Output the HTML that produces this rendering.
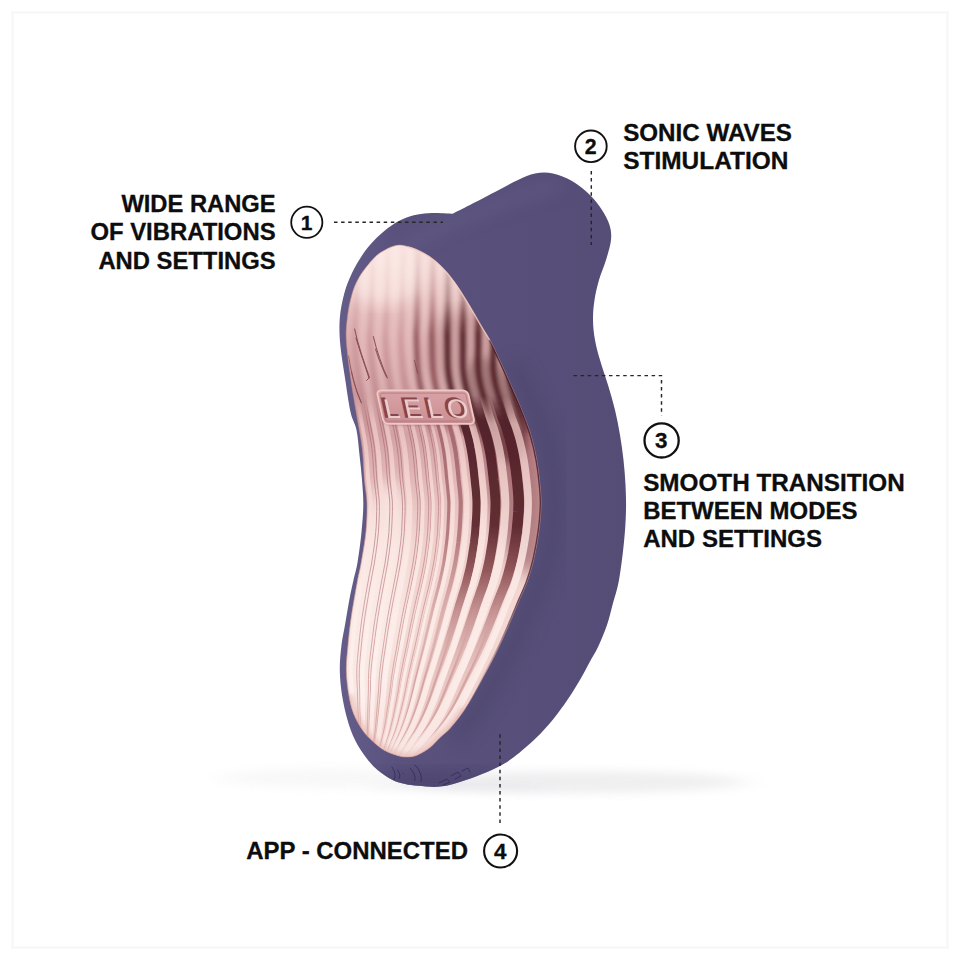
<!DOCTYPE html>
<html lang="en"><head><meta charset="utf-8"><title>Product features</title>
<style>
html,body{margin:0;padding:0;background:#fff;}
body{width:960px;height:960px;overflow:hidden;}
svg{display:block;}
text{font-family:"Liberation Sans", Arial, sans-serif;font-weight:700;fill:#0d0d0d;}
.lbl,.num{stroke:#0d0d0d;stroke-width:0.3px;stroke-linejoin:round;}
.lbl{font-size:23.2px;}
.num{text-anchor:middle;}
.dot{stroke:#262626;stroke-width:1.45;stroke-dasharray:3.5 3.6;fill:none;}
.ring{fill:#fff;stroke:#111;}
.rd{fill:none;stroke-linecap:round;}
</style></head><body>
<svg width="960" height="960" viewBox="0 0 960 960">

<defs>
<linearGradient id="gBody" x1="340" y1="0" x2="626" y2="0" gradientUnits="userSpaceOnUse">
 <stop offset="0" stop-color="#645d8a"/><stop offset="0.2" stop-color="#5a527d"/><stop offset="0.7" stop-color="#574f79"/><stop offset="1" stop-color="#554d76"/>
</linearGradient>
<linearGradient id="gPanel" x1="0" y1="246" x2="0" y2="756" gradientUnits="userSpaceOnUse">
 <stop offset="0" stop-color="#f7e0db"/><stop offset="0.06" stop-color="#f0d1ce"/><stop offset="0.12" stop-color="#e5bdbd"/><stop offset="0.2" stop-color="#dbaaac"/><stop offset="0.29" stop-color="#cc989c"/><stop offset="0.37" stop-color="#d3a1a4"/><stop offset="0.46" stop-color="#e2b9b8"/><stop offset="0.58" stop-color="#efcfcb"/><stop offset="0.73" stop-color="#f3d9d4"/><stop offset="1" stop-color="#f0cfc9"/>
</linearGradient>
<linearGradient id="gDarkR" x1="0" y1="246" x2="0" y2="756" gradientUnits="userSpaceOnUse">
 <stop offset="0" stop-color="#7a4247" stop-opacity="0.1"/><stop offset="0.12" stop-color="#7a4247" stop-opacity="0.55"/><stop offset="0.25" stop-color="#7a4247" stop-opacity="0.9"/><stop offset="0.6" stop-color="#82474b" stop-opacity="0.9"/><stop offset="0.8" stop-color="#a8696a" stop-opacity="0.7"/><stop offset="1" stop-color="#b98180" stop-opacity="0.5"/>
</linearGradient>
<linearGradient id="gDarkL" x1="0" y1="246" x2="0" y2="756" gradientUnits="userSpaceOnUse">
 <stop offset="0" stop-color="#b88586" stop-opacity="0.1"/><stop offset="0.15" stop-color="#b88586" stop-opacity="0.4"/><stop offset="0.3" stop-color="#b07a7c" stop-opacity="0.8"/><stop offset="0.6" stop-color="#b07a7c" stop-opacity="0.8"/><stop offset="1" stop-color="#c08f8e" stop-opacity="0.6"/>
</linearGradient>
<linearGradient id="gLight" x1="0" y1="246" x2="0" y2="756" gradientUnits="userSpaceOnUse">
 <stop offset="0" stop-color="#fff4f1" stop-opacity="0.5"/><stop offset="0.2" stop-color="#fbe4e0" stop-opacity="0.45"/><stop offset="0.35" stop-color="#fdeae6" stop-opacity="0.85"/><stop offset="1" stop-color="#fff3ef" stop-opacity="0.95"/>
</linearGradient>
<linearGradient id="gLogo" x1="0" y1="0" x2="0" y2="1">
 <stop offset="0" stop-color="#d9a3a6"/><stop offset="1" stop-color="#c98f93"/>
</linearGradient>
<filter id="blurS" x="-20%" y="-200%" width="140%" height="500%"><feGaussianBlur stdDeviation="16 5"/></filter>
<filter id="b05"><feGaussianBlur stdDeviation="0.5"/></filter>
<filter id="b1"><feGaussianBlur stdDeviation="0.9"/></filter>
<filter id="b2"><feGaussianBlur stdDeviation="2"/></filter>
<filter id="b4"><feGaussianBlur stdDeviation="4"/></filter>
<filter id="b8"><feGaussianBlur stdDeviation="8"/></filter>
<clipPath id="cpPanel"><path d="M397.0 245.3C393.2 245.9 388.9 247.8 385.0 250.0C381.1 252.2 378.1 253.8 373.8 258.3C369.4 262.9 362.8 271.2 359.2 277.3C355.6 283.4 353.8 288.2 351.9 294.8C349.9 301.4 348.4 309.2 347.5 316.7C346.6 324.2 345.8 330.3 346.3 340.0C346.8 349.7 348.9 364.2 350.3 375.0C351.8 385.8 353.6 396.7 355.0 405.0C356.4 413.3 357.2 417.5 358.5 425.0C359.8 432.5 361.5 440.8 362.5 450.0C363.5 459.2 363.8 471.2 364.5 480.0C365.2 488.8 366.8 494.5 367.0 503.0C367.2 511.5 366.9 521.2 366.0 531.0C365.1 540.8 362.7 553.8 361.3 562.0C359.9 570.2 358.8 573.7 357.6 580.0C356.4 586.3 355.2 593.0 354.0 600.0C352.8 607.0 351.5 614.5 350.5 622.0C349.5 629.5 348.7 637.0 348.0 645.0C347.3 653.0 346.2 661.7 346.3 670.0C346.4 678.3 347.5 687.7 348.8 695.0C350.0 702.3 351.5 708.2 353.8 714.0C356.0 719.8 359.4 725.5 362.5 730.0C365.6 734.5 369.0 737.7 372.5 741.0C376.0 744.3 379.6 747.6 383.8 750.0C387.9 752.4 393.5 754.4 397.5 755.6C401.5 756.8 404.2 757.1 407.5 757.0C410.8 756.9 413.8 756.6 417.5 755.0C421.2 753.4 426.2 750.4 430.0 747.5C433.8 744.6 436.7 740.7 440.0 737.5C443.3 734.3 445.8 733.2 450.0 728.5C454.2 723.8 460.0 716.6 465.0 709.0C470.0 701.4 475.0 692.0 480.0 683.0C485.0 674.0 490.4 664.2 495.0 655.0C499.6 645.8 503.7 636.7 507.5 628.0C511.3 619.3 514.8 610.7 518.0 603.0C521.2 595.3 524.3 589.5 527.0 582.0C529.7 574.5 532.0 566.7 534.0 558.0C536.0 549.3 537.8 538.8 539.0 530.0C540.2 521.2 540.8 512.5 541.0 505.0C541.2 497.5 540.7 492.5 540.0 485.0C539.3 477.5 538.2 468.3 536.7 460.0C535.2 451.7 533.3 443.3 530.8 435.0C528.3 426.7 525.0 418.3 521.7 410.0C518.4 401.7 514.4 393.2 510.8 385.0C507.2 376.8 503.5 368.5 500.0 361.0C496.5 353.5 492.9 345.6 490.0 340.0C487.1 334.4 485.8 333.2 482.5 327.5C479.2 321.8 474.2 312.9 470.0 306.0C465.8 299.1 461.7 292.0 457.5 286.0C453.3 280.0 449.2 274.6 445.0 270.0C440.8 265.4 436.7 261.7 432.5 258.5C428.3 255.3 424.1 253.0 420.0 251.0C415.9 249.0 411.8 247.4 408.0 246.5C404.2 245.6 400.8 244.7 397.0 245.3Z"/></clipPath>
<clipPath id="cpBody"><path d="M452.5 213.8C455.4 212.3 462.9 208.6 470.0 205.0C477.1 201.4 487.0 196.2 495.0 192.0C503.0 187.8 511.3 183.1 518.0 180.0C524.7 176.9 529.2 174.6 535.0 173.5C540.8 172.4 546.8 172.2 553.0 173.5C559.2 174.8 565.8 177.4 572.0 181.0C578.2 184.6 585.0 190.2 590.0 195.0C595.0 199.8 598.8 205.0 602.0 210.0C605.2 215.0 608.0 220.0 609.5 225.0C611.0 230.0 611.6 234.2 611.0 240.0C610.4 245.8 608.0 253.3 606.0 260.0C604.0 266.7 600.9 273.3 599.0 280.0C597.1 286.7 595.5 293.3 594.5 300.0C593.5 306.7 592.9 313.3 593.0 320.0C593.1 326.7 593.8 333.3 595.0 340.0C596.2 346.7 597.8 352.5 600.0 360.0C602.2 367.5 605.5 376.7 608.0 385.0C610.5 393.3 613.0 401.7 615.0 410.0C617.0 418.3 618.6 426.7 620.0 435.0C621.4 443.3 622.6 451.7 623.5 460.0C624.4 468.3 625.1 476.7 625.5 485.0C625.9 493.3 626.2 500.5 626.0 510.0C625.8 519.5 625.2 530.3 624.0 542.0C622.8 553.7 620.9 569.5 619.0 580.0C617.1 590.5 614.5 597.5 612.5 605.0C610.5 612.5 609.4 618.0 607.0 625.0C604.6 632.0 600.9 640.8 598.0 647.0C595.1 653.2 592.6 656.7 589.7 662.0C586.8 667.3 584.1 672.8 580.5 679.0C576.9 685.2 572.6 692.2 568.0 699.0C563.4 705.8 558.3 713.0 553.0 719.5C547.7 726.0 542.5 731.8 536.0 738.0C529.5 744.2 520.3 752.2 514.0 757.0C507.7 761.8 504.3 763.8 498.0 767.0C491.7 770.2 483.2 773.8 476.0 776.5C468.8 779.2 461.3 781.8 455.0 783.5C448.7 785.2 444.2 786.4 438.0 786.8C431.8 787.2 423.5 786.3 418.0 785.8C412.5 785.3 409.2 785.0 405.0 784.0C400.8 783.0 397.1 782.3 392.5 780.0C387.9 777.7 381.9 773.8 377.5 770.0C373.1 766.2 369.8 762.5 366.0 757.5C362.2 752.5 358.1 746.2 355.0 740.0C351.9 733.8 349.7 727.5 347.5 720.0C345.3 712.5 343.3 703.3 342.0 695.0C340.7 686.7 339.9 678.3 339.8 670.0C339.7 661.7 340.6 652.5 341.5 645.0C342.4 637.5 343.7 632.5 345.0 625.0C346.3 617.5 347.9 607.5 349.3 600.0C350.7 592.5 352.1 586.3 353.5 580.0C354.9 573.7 356.3 570.0 357.6 562.0C358.9 554.0 360.6 541.5 361.5 532.0C362.4 522.5 363.2 513.7 363.3 505.0C363.4 496.3 362.6 488.3 362.0 480.0C361.4 471.7 360.4 463.3 359.5 455.0C358.6 446.7 358.0 437.2 356.5 430.0C355.0 422.8 352.4 420.7 350.5 412.0C348.6 403.3 346.7 389.2 345.0 378.0C343.3 366.8 341.2 355.0 340.3 345.0C339.4 335.0 339.1 326.7 339.8 318.0C340.5 309.3 342.4 300.5 344.4 293.0C346.4 285.5 349.1 279.3 352.0 273.0C354.9 266.7 358.4 260.8 362.0 255.4C365.6 250.0 369.4 245.4 373.8 240.8C378.1 236.2 383.4 231.3 388.3 227.7C393.2 224.1 398.1 221.2 403.0 219.0C407.9 216.8 412.7 215.6 417.5 214.6C422.3 213.6 426.2 213.1 432.0 213.0C437.8 212.9 449.1 213.6 452.5 213.8Z"/></clipPath>
</defs>

<rect x="0" y="0" width="960" height="960" fill="#fff"/>
<rect x="12.5" y="12.5" width="935" height="935" fill="none" stroke="#f7f7f7" stroke-width="2.5"/>
<ellipse cx="575" cy="782" rx="170" ry="11" fill="#e8e8ea" opacity="0.7" filter="url(#blurS)"/>
<ellipse cx="330" cy="778" rx="110" ry="10" fill="#eeeeef" opacity="0.4" filter="url(#blurS)"/>
<ellipse cx="460" cy="787" rx="90" ry="3" fill="#dcdbe2" opacity="0.5" filter="url(#blurS)"/>
<path d="M452.5 213.8C455.4 212.3 462.9 208.6 470.0 205.0C477.1 201.4 487.0 196.2 495.0 192.0C503.0 187.8 511.3 183.1 518.0 180.0C524.7 176.9 529.2 174.6 535.0 173.5C540.8 172.4 546.8 172.2 553.0 173.5C559.2 174.8 565.8 177.4 572.0 181.0C578.2 184.6 585.0 190.2 590.0 195.0C595.0 199.8 598.8 205.0 602.0 210.0C605.2 215.0 608.0 220.0 609.5 225.0C611.0 230.0 611.6 234.2 611.0 240.0C610.4 245.8 608.0 253.3 606.0 260.0C604.0 266.7 600.9 273.3 599.0 280.0C597.1 286.7 595.5 293.3 594.5 300.0C593.5 306.7 592.9 313.3 593.0 320.0C593.1 326.7 593.8 333.3 595.0 340.0C596.2 346.7 597.8 352.5 600.0 360.0C602.2 367.5 605.5 376.7 608.0 385.0C610.5 393.3 613.0 401.7 615.0 410.0C617.0 418.3 618.6 426.7 620.0 435.0C621.4 443.3 622.6 451.7 623.5 460.0C624.4 468.3 625.1 476.7 625.5 485.0C625.9 493.3 626.2 500.5 626.0 510.0C625.8 519.5 625.2 530.3 624.0 542.0C622.8 553.7 620.9 569.5 619.0 580.0C617.1 590.5 614.5 597.5 612.5 605.0C610.5 612.5 609.4 618.0 607.0 625.0C604.6 632.0 600.9 640.8 598.0 647.0C595.1 653.2 592.6 656.7 589.7 662.0C586.8 667.3 584.1 672.8 580.5 679.0C576.9 685.2 572.6 692.2 568.0 699.0C563.4 705.8 558.3 713.0 553.0 719.5C547.7 726.0 542.5 731.8 536.0 738.0C529.5 744.2 520.3 752.2 514.0 757.0C507.7 761.8 504.3 763.8 498.0 767.0C491.7 770.2 483.2 773.8 476.0 776.5C468.8 779.2 461.3 781.8 455.0 783.5C448.7 785.2 444.2 786.4 438.0 786.8C431.8 787.2 423.5 786.3 418.0 785.8C412.5 785.3 409.2 785.0 405.0 784.0C400.8 783.0 397.1 782.3 392.5 780.0C387.9 777.7 381.9 773.8 377.5 770.0C373.1 766.2 369.8 762.5 366.0 757.5C362.2 752.5 358.1 746.2 355.0 740.0C351.9 733.8 349.7 727.5 347.5 720.0C345.3 712.5 343.3 703.3 342.0 695.0C340.7 686.7 339.9 678.3 339.8 670.0C339.7 661.7 340.6 652.5 341.5 645.0C342.4 637.5 343.7 632.5 345.0 625.0C346.3 617.5 347.9 607.5 349.3 600.0C350.7 592.5 352.1 586.3 353.5 580.0C354.9 573.7 356.3 570.0 357.6 562.0C358.9 554.0 360.6 541.5 361.5 532.0C362.4 522.5 363.2 513.7 363.3 505.0C363.4 496.3 362.6 488.3 362.0 480.0C361.4 471.7 360.4 463.3 359.5 455.0C358.6 446.7 358.0 437.2 356.5 430.0C355.0 422.8 352.4 420.7 350.5 412.0C348.6 403.3 346.7 389.2 345.0 378.0C343.3 366.8 341.2 355.0 340.3 345.0C339.4 335.0 339.1 326.7 339.8 318.0C340.5 309.3 342.4 300.5 344.4 293.0C346.4 285.5 349.1 279.3 352.0 273.0C354.9 266.7 358.4 260.8 362.0 255.4C365.6 250.0 369.4 245.4 373.8 240.8C378.1 236.2 383.4 231.3 388.3 227.7C393.2 224.1 398.1 221.2 403.0 219.0C407.9 216.8 412.7 215.6 417.5 214.6C422.3 213.6 426.2 213.1 432.0 213.0C437.8 212.9 449.1 213.6 452.5 213.8Z" fill="url(#gBody)"/>
<g clip-path="url(#cpBody)">
<path d="M454.0 737.5C455.7 736.0 459.8 733.2 464.0 728.5C468.2 723.8 474.0 716.6 479.0 709.0C484.0 701.4 489.0 692.0 494.0 683.0C499.0 674.0 504.4 664.2 509.0 655.0C513.6 645.8 517.7 636.7 521.5 628.0C525.3 619.3 528.8 610.7 532.0 603.0C535.2 595.3 538.3 589.5 541.0 582.0C543.7 574.5 546.0 566.7 548.0 558.0C550.0 549.3 551.8 538.8 553.0 530.0C554.2 521.2 554.8 512.5 555.0 505.0C555.2 497.5 554.7 492.5 554.0 485.0C553.3 477.5 552.2 468.3 550.7 460.0C549.2 451.7 547.3 443.3 544.8 435.0C542.3 426.7 539.0 418.3 535.7 410.0C532.4 401.7 528.4 393.2 524.8 385.0C521.2 376.8 515.8 365.0 514.0 361.0" fill="none" stroke="#49446b" stroke-width="16" opacity="0.55" filter="url(#b8)"/>
<ellipse cx="440" cy="800" rx="120" ry="30" fill="#46416a" opacity="0.55" filter="url(#b8)"/>
<path d="M400 250 C440 225 500 200 560 185" fill="none" stroke="#67628c" stroke-width="10" opacity="0.5" filter="url(#b8)"/>
<g fill="none" stroke="#2f2a55" stroke-width="1" opacity="0.75" stroke-linecap="round">
<path d="M392 767q5 7 2 13M397.5 770q4 5 1.500 8.500M403 773l.5 .5M410 768q6 6 5 12.500M415 765q8 8 6 16.500"/>
<path d="M439 783l8 -4l3 3l-7 3M451 776l7 -4l3 4l-6 3M462 771l6 -3l2 4"/>
</g>
</g>
<path d="M397.0 245.3C393.2 245.9 388.9 247.8 385.0 250.0C381.1 252.2 378.1 253.8 373.8 258.3C369.4 262.9 362.8 271.2 359.2 277.3C355.6 283.4 353.8 288.2 351.9 294.8C349.9 301.4 348.4 309.2 347.5 316.7C346.6 324.2 345.8 330.3 346.3 340.0C346.8 349.7 348.9 364.2 350.3 375.0C351.8 385.8 353.6 396.7 355.0 405.0C356.4 413.3 357.2 417.5 358.5 425.0C359.8 432.5 361.5 440.8 362.5 450.0C363.5 459.2 363.8 471.2 364.5 480.0C365.2 488.8 366.8 494.5 367.0 503.0C367.2 511.5 366.9 521.2 366.0 531.0C365.1 540.8 362.7 553.8 361.3 562.0C359.9 570.2 358.8 573.7 357.6 580.0C356.4 586.3 355.2 593.0 354.0 600.0C352.8 607.0 351.5 614.5 350.5 622.0C349.5 629.5 348.7 637.0 348.0 645.0C347.3 653.0 346.2 661.7 346.3 670.0C346.4 678.3 347.5 687.7 348.8 695.0C350.0 702.3 351.5 708.2 353.8 714.0C356.0 719.8 359.4 725.5 362.5 730.0C365.6 734.5 369.0 737.7 372.5 741.0C376.0 744.3 379.6 747.6 383.8 750.0C387.9 752.4 393.5 754.4 397.5 755.6C401.5 756.8 404.2 757.1 407.5 757.0C410.8 756.9 413.8 756.6 417.5 755.0C421.2 753.4 426.2 750.4 430.0 747.5C433.8 744.6 436.7 740.7 440.0 737.5C443.3 734.3 445.8 733.2 450.0 728.5C454.2 723.8 460.0 716.6 465.0 709.0C470.0 701.4 475.0 692.0 480.0 683.0C485.0 674.0 490.4 664.2 495.0 655.0C499.6 645.8 503.7 636.7 507.5 628.0C511.3 619.3 514.8 610.7 518.0 603.0C521.2 595.3 524.3 589.5 527.0 582.0C529.7 574.5 532.0 566.7 534.0 558.0C536.0 549.3 537.8 538.8 539.0 530.0C540.2 521.2 540.8 512.5 541.0 505.0C541.2 497.5 540.7 492.5 540.0 485.0C539.3 477.5 538.2 468.3 536.7 460.0C535.2 451.7 533.3 443.3 530.8 435.0C528.3 426.7 525.0 418.3 521.7 410.0C518.4 401.7 514.4 393.2 510.8 385.0C507.2 376.8 503.5 368.5 500.0 361.0C496.5 353.5 492.9 345.6 490.0 340.0C487.1 334.4 485.8 333.2 482.5 327.5C479.2 321.8 474.2 312.9 470.0 306.0C465.8 299.1 461.7 292.0 457.5 286.0C453.3 280.0 449.2 274.6 445.0 270.0C440.8 265.4 436.7 261.7 432.5 258.5C428.3 255.3 424.1 253.0 420.0 251.0C415.9 249.0 411.8 247.4 408.0 246.5C404.2 245.6 400.8 244.7 397.0 245.3Z" fill="url(#gPanel)"/>
<g clip-path="url(#cpPanel)">
<ellipse cx="383" cy="274" rx="40" ry="32" fill="#fcebe7" opacity="0.7" filter="url(#b8)"/>
<ellipse cx="470" cy="352" rx="45" ry="42" fill="#a96c71" opacity="0.55" filter="url(#b8)"/>
<ellipse cx="512" cy="470" rx="30" ry="105" transform="rotate(-10 512 470)" fill="#8d4e54" opacity="0.6" filter="url(#b8)"/>
<ellipse cx="496" cy="410" rx="26" ry="55" transform="rotate(-20 496 410)" fill="#5a262c" opacity="0.6" filter="url(#b4)"/>
<ellipse cx="375" cy="600" rx="30" ry="120" transform="rotate(8 375 600)" fill="#fdf1ee" opacity="0.7" filter="url(#b8)"/>
<defs>
<linearGradient id="uD1" x1="0" y1="238" x2="0" y2="432" gradientUnits="userSpaceOnUse"><stop offset="0.000" stop-color="#c48e91" stop-opacity="0"/><stop offset="0.268" stop-color="#c48e91" stop-opacity="0.2"/><stop offset="0.526" stop-color="#bb8387" stop-opacity="0.5"/><stop offset="0.835" stop-color="#bb8387" stop-opacity="0.55"/><stop offset="1.000" stop-color="#bb8387" stop-opacity="0.3"/></linearGradient>
<linearGradient id="uD2" x1="0" y1="238" x2="0" y2="432" gradientUnits="userSpaceOnUse"><stop offset="0.000" stop-color="#9c6065" stop-opacity="0"/><stop offset="0.268" stop-color="#9c6065" stop-opacity="0.3"/><stop offset="0.500" stop-color="#8a4e54" stop-opacity="0.85"/><stop offset="0.861" stop-color="#8a4e54" stop-opacity="0.85"/><stop offset="1.000" stop-color="#8a4e54" stop-opacity="0.3"/></linearGradient>
<linearGradient id="uD3" x1="0" y1="238" x2="0" y2="432" gradientUnits="userSpaceOnUse"><stop offset="0.000" stop-color="#5c282e" stop-opacity="0"/><stop offset="0.320" stop-color="#5c282e" stop-opacity="0.35"/><stop offset="0.500" stop-color="#5c282e" stop-opacity="0.95"/><stop offset="0.887" stop-color="#5c282e" stop-opacity="0.95"/><stop offset="1.000" stop-color="#5c282e" stop-opacity="0.4"/></linearGradient>
<linearGradient id="uL" x1="0" y1="238" x2="0" y2="432" gradientUnits="userSpaceOnUse"><stop offset="0.000" stop-color="#fff2ef" stop-opacity="0.45"/><stop offset="0.423" stop-color="#f6d8d4" stop-opacity="0.3"/><stop offset="0.706" stop-color="#f6d8d4" stop-opacity="0.4"/><stop offset="0.794" stop-color="#f6d8d4" stop-opacity="0.4"/><stop offset="1.000" stop-color="#f6d8d4" stop-opacity="0.1"/></linearGradient>
<linearGradient id="lDL" x1="0" y1="396" x2="0" y2="764" gradientUnits="userSpaceOnUse"><stop offset="0.000" stop-color="#b07579" stop-opacity="0"/><stop offset="0.076" stop-color="#b07579" stop-opacity="0.9"/><stop offset="0.283" stop-color="#c48c8f" stop-opacity="0.9"/><stop offset="0.554" stop-color="#d09c9d" stop-opacity="0.9"/><stop offset="1.000" stop-color="#d6a4a3" stop-opacity="0.8"/></linearGradient>
<linearGradient id="lDM" x1="0" y1="396" x2="0" y2="764" gradientUnits="userSpaceOnUse"><stop offset="0.000" stop-color="#a4676b" stop-opacity="0"/><stop offset="0.076" stop-color="#a4676b" stop-opacity="0.95"/><stop offset="0.391" stop-color="#b07578" stop-opacity="0.9"/><stop offset="0.554" stop-color="#cc9797" stop-opacity="0.7"/><stop offset="0.717" stop-color="#d3a09f" stop-opacity="0.25"/><stop offset="0.880" stop-color="#d9a9a7" stop-opacity="0"/></linearGradient>
<linearGradient id="lDR" x1="0" y1="396" x2="0" y2="764" gradientUnits="userSpaceOnUse"><stop offset="0.000" stop-color="#52222a" stop-opacity="0"/><stop offset="0.065" stop-color="#52222a" stop-opacity="0.97"/><stop offset="0.351" stop-color="#5c282e" stop-opacity="0.95"/><stop offset="0.473" stop-color="#87494e" stop-opacity="0.9"/><stop offset="0.582" stop-color="#b87d7f" stop-opacity="0.8"/><stop offset="0.745" stop-color="#cf9c9b" stop-opacity="0.3"/><stop offset="0.908" stop-color="#d9a9a7" stop-opacity="0"/></linearGradient>
<linearGradient id="lDT" x1="0" y1="396" x2="0" y2="764" gradientUnits="userSpaceOnUse"><stop offset="0.000" stop-color="#d09c9d" stop-opacity="0"/><stop offset="0.541" stop-color="#d09c9d" stop-opacity="0"/><stop offset="0.758" stop-color="#d09c9d" stop-opacity="0.85"/><stop offset="1.000" stop-color="#d6a4a3" stop-opacity="0.8"/></linearGradient>
<linearGradient id="lL" x1="0" y1="396" x2="0" y2="764" gradientUnits="userSpaceOnUse"><stop offset="0.000" stop-color="#f0cbc7" stop-opacity="0"/><stop offset="0.076" stop-color="#f0cbc7" stop-opacity="0.7"/><stop offset="0.228" stop-color="#f7d9d5" stop-opacity="0.8"/><stop offset="0.446" stop-color="#fce9e5" stop-opacity="0.85"/><stop offset="0.772" stop-color="#fff3f0" stop-opacity="0.75"/><stop offset="1.000" stop-color="#fff3f0" stop-opacity="0.6"/></linearGradient>
</defs>
<g filter="url(#b2)">
<path class="rd" d="M358.9 238.0C358.8 240.0 358.4 246.0 358.2 250.0C358.0 254.0 357.8 258.0 357.6 262.0C357.4 266.0 357.3 270.0 357.2 274.0C357.0 278.0 356.9 282.0 356.8 286.0C356.7 290.0 356.5 294.0 356.4 298.0C356.3 302.0 356.2 306.0 356.0 310.0C355.8 314.0 355.6 318.0 355.4 322.0C355.2 326.0 354.6 330.0 354.5 334.0C354.5 338.0 354.7 342.0 355.0 346.0C355.3 350.0 355.8 354.0 356.2 358.0C356.7 362.0 357.2 366.0 357.7 370.0C358.2 374.0 358.8 378.0 359.4 382.0C360.0 386.0 360.7 390.0 361.3 394.0C362.0 398.0 362.7 402.0 363.4 406.0C364.1 410.0 364.9 414.0 365.6 418.0C366.4 422.0 367.5 428.0 367.9 430.0" stroke="url(#uD1)" stroke-width="4.5"/>
<path class="rd" d="M373.8 238.0C373.7 240.0 373.4 246.0 373.2 250.0C373.0 254.0 372.8 258.0 372.7 262.0C372.5 266.0 372.4 270.0 372.3 274.0C372.2 278.0 372.1 282.0 372.0 286.0C371.9 290.0 371.8 294.0 371.7 298.0C371.5 302.0 371.4 306.0 371.3 310.0C371.2 314.0 371.0 318.0 370.8 322.0C370.6 326.0 370.1 330.0 370.0 334.0C369.9 338.0 370.2 342.0 370.4 346.0C370.7 350.0 371.1 354.0 371.4 358.0C371.8 362.0 372.3 366.0 372.8 370.0C373.3 374.0 373.8 378.0 374.5 382.0C375.1 386.0 375.8 390.0 376.5 394.0C377.3 398.0 378.0 402.0 378.8 406.0C379.6 410.0 380.4 414.0 381.2 418.0C382.0 422.0 383.2 428.0 383.6 430.0" stroke="url(#uD1)" stroke-width="4.5"/>
<path class="rd" d="M388.7 238.0C388.6 240.0 388.4 246.0 388.2 250.0C388.0 254.0 387.9 258.0 387.7 262.0C387.6 266.0 387.5 270.0 387.4 274.0C387.3 278.0 387.3 282.0 387.2 286.0C387.1 290.0 387.0 294.0 386.9 298.0C386.8 302.0 386.7 306.0 386.6 310.0C386.5 314.0 386.3 318.0 386.1 322.0C385.9 326.0 385.5 330.0 385.5 334.0C385.4 338.0 385.6 342.0 385.8 346.0C386.0 350.0 386.3 354.0 386.7 358.0C387.0 362.0 387.4 366.0 387.8 370.0C388.3 374.0 388.9 378.0 389.5 382.0C390.2 386.0 391.0 390.0 391.7 394.0C392.5 398.0 393.3 402.0 394.2 406.0C395.0 410.0 395.9 414.0 396.7 418.0C397.6 422.0 399.0 428.0 399.4 430.0" stroke="url(#uD1)" stroke-width="4.5"/>
<path class="rd" d="M403.6 238.0C403.5 240.0 403.3 246.0 403.2 250.0C403.1 254.0 402.9 258.0 402.8 262.0C402.7 266.0 402.6 270.0 402.6 274.0C402.5 278.0 402.4 282.0 402.4 286.0C402.3 290.0 402.2 294.0 402.1 298.0C402.1 302.0 402.0 306.0 401.9 310.0C401.8 314.0 401.7 318.0 401.5 322.0C401.3 326.0 401.0 330.0 400.9 334.0C400.9 338.0 401.1 342.0 401.2 346.0C401.4 350.0 401.6 354.0 401.9 358.0C402.2 362.0 402.4 366.0 402.9 370.0C403.3 374.0 403.9 378.0 404.6 382.0C405.3 386.0 406.1 390.0 406.9 394.0C407.7 398.0 408.6 402.0 409.5 406.0C410.4 410.0 411.3 414.0 412.3 418.0C413.2 422.0 414.7 428.0 415.2 430.0" stroke="url(#uD1)" stroke-width="4.5"/>
<path class="rd" d="M418.5 238.0C418.5 240.0 418.3 246.0 418.2 250.0C418.1 254.0 418.0 258.0 417.9 262.0C417.8 266.0 417.8 270.0 417.7 274.0C417.6 278.0 417.6 282.0 417.6 286.0C417.5 290.0 417.4 294.0 417.4 298.0C417.3 302.0 417.3 306.0 417.2 310.0C417.1 314.0 417.0 318.0 416.9 322.0C416.7 326.0 416.4 330.0 416.4 334.0C416.3 338.0 416.5 342.0 416.6 346.0C416.8 350.0 416.9 354.0 417.1 358.0C417.3 362.0 417.5 366.0 418.0 370.0C418.4 374.0 419.0 378.0 419.6 382.0C420.3 386.0 421.2 390.0 422.1 394.0C423.0 398.0 423.9 402.0 424.9 406.0C425.9 410.0 426.8 414.0 427.8 418.0C428.9 422.0 430.5 428.0 431.0 430.0" stroke="url(#uD2)" stroke-width="6.0"/>
<path class="rd" d="M433.4 238.0C433.4 240.0 433.2 246.0 433.2 250.0C433.1 254.0 433.0 258.0 433.0 262.0C432.9 266.0 432.9 270.0 432.8 274.0C432.8 278.0 432.8 282.0 432.7 286.0C432.7 290.0 432.7 294.0 432.6 298.0C432.6 302.0 432.6 306.0 432.5 310.0C432.4 314.0 432.4 318.0 432.2 322.0C432.1 326.0 431.9 330.0 431.8 334.0C431.8 338.0 432.0 342.0 432.0 346.0C432.1 350.0 432.2 354.0 432.3 358.0C432.5 362.0 432.6 366.0 433.0 370.0C433.4 374.0 434.0 378.0 434.7 382.0C435.4 386.0 436.4 390.0 437.3 394.0C438.2 398.0 439.3 402.0 440.3 406.0C441.3 410.0 442.3 414.0 443.4 418.0C444.5 422.0 446.2 428.0 446.8 430.0" stroke="url(#uD2)" stroke-width="6.0"/>
<path class="rd" d="M448.3 238.0C448.3 240.0 448.2 246.0 448.2 250.0C448.1 254.0 448.1 258.0 448.0 262.0C448.0 266.0 448.0 270.0 448.0 274.0C448.0 278.0 447.9 282.0 447.9 286.0C447.9 290.0 447.9 294.0 447.9 298.0C447.8 302.0 447.8 306.0 447.8 310.0C447.7 314.0 447.7 318.0 447.6 322.0C447.5 326.0 447.3 330.0 447.3 334.0C447.3 338.0 447.4 342.0 447.4 346.0C447.5 350.0 447.4 354.0 447.5 358.0C447.7 362.0 447.7 366.0 448.1 370.0C448.4 374.0 449.0 378.0 449.8 382.0C450.5 386.0 451.5 390.0 452.5 394.0C453.5 398.0 454.6 402.0 455.6 406.0C456.7 410.0 457.8 414.0 458.9 418.0C460.1 422.0 462.0 428.0 462.6 430.0" stroke="url(#uD3)" stroke-width="7.5"/>
<path class="rd" d="M463.2 238.0C463.2 240.0 463.2 246.0 463.2 250.0C463.1 254.0 463.1 258.0 463.1 262.0C463.1 266.0 463.1 270.0 463.1 274.0C463.1 278.0 463.1 282.0 463.1 286.0C463.1 290.0 463.1 294.0 463.1 298.0C463.1 302.0 463.1 306.0 463.1 310.0C463.1 314.0 463.0 318.0 463.0 322.0C462.9 326.0 462.8 330.0 462.8 334.0C462.8 338.0 462.9 342.0 462.9 346.0C462.9 350.0 462.7 354.0 462.8 358.0C462.8 362.0 462.8 366.0 463.1 370.0C463.5 374.0 464.1 378.0 464.8 382.0C465.6 386.0 466.7 390.0 467.7 394.0C468.7 398.0 469.9 402.0 471.0 406.0C472.1 410.0 473.3 414.0 474.5 418.0C475.7 422.0 477.7 428.0 478.4 430.0" stroke="url(#uD3)" stroke-width="7.5"/>
<path class="rd" d="M478.1 238.0C478.1 240.0 478.1 246.0 478.1 250.0C478.1 254.0 478.2 258.0 478.2 262.0C478.2 266.0 478.2 270.0 478.2 274.0C478.3 278.0 478.3 282.0 478.3 286.0C478.3 290.0 478.3 294.0 478.3 298.0C478.4 302.0 478.4 306.0 478.4 310.0C478.4 314.0 478.4 318.0 478.4 322.0C478.3 326.0 478.3 330.0 478.2 334.0C478.2 338.0 478.3 342.0 478.3 346.0C478.2 350.0 478.0 354.0 478.0 358.0C478.0 362.0 477.9 366.0 478.2 370.0C478.5 374.0 479.1 378.0 479.9 382.0C480.7 386.0 481.8 390.0 482.9 394.0C484.0 398.0 485.2 402.0 486.4 406.0C487.6 410.0 488.7 414.0 490.0 418.0C491.3 422.0 493.5 428.0 494.2 430.0" stroke="url(#uD3)" stroke-width="7.5"/>
<path class="rd" d="M493.0 238.0C493.0 240.0 493.1 246.0 493.1 250.0C493.2 254.0 493.2 258.0 493.2 262.0C493.3 266.0 493.3 270.0 493.4 274.0C493.4 278.0 493.5 282.0 493.5 286.0C493.5 290.0 493.6 294.0 493.6 298.0C493.6 302.0 493.7 306.0 493.7 310.0C493.7 314.0 493.7 318.0 493.7 322.0C493.7 326.0 493.7 330.0 493.7 334.0C493.7 338.0 493.7 342.0 493.7 346.0C493.6 350.0 493.3 354.0 493.2 358.0C493.1 362.0 493.0 366.0 493.2 370.0C493.5 374.0 494.2 378.0 495.0 382.0C495.8 386.0 496.9 390.0 498.1 394.0C499.2 398.0 500.5 402.0 501.7 406.0C503.0 410.0 504.2 414.0 505.6 418.0C507.0 422.0 509.2 428.0 510.0 430.0" stroke="url(#uD3)" stroke-width="7.5"/>
<path class="rd" d="M507.9 238.0C508.0 240.0 508.1 246.0 508.1 250.0C508.2 254.0 508.3 258.0 508.3 262.0C508.4 266.0 508.4 270.0 508.5 274.0C508.6 278.0 508.6 282.0 508.7 286.0C508.7 290.0 508.8 294.0 508.8 298.0C508.9 302.0 508.9 306.0 509.0 310.0C509.0 314.0 509.1 318.0 509.1 322.0C509.1 326.0 509.2 330.0 509.2 334.0C509.2 338.0 509.2 342.0 509.1 346.0C508.9 350.0 508.6 354.0 508.4 358.0C508.3 362.0 508.0 366.0 508.3 370.0C508.6 374.0 509.2 378.0 510.0 382.0C510.8 386.0 512.1 390.0 513.3 394.0C514.4 398.0 515.8 402.0 517.1 406.0C518.4 410.0 519.7 414.0 521.1 418.0C522.6 422.0 525.0 428.0 525.7 430.0" stroke="url(#uD3)" stroke-width="7.5"/>
<path class="rd" d="M366.3 238.0C366.2 240.0 365.9 246.0 365.7 250.0C365.5 254.0 365.3 258.0 365.1 262.0C365.0 266.0 364.9 270.0 364.7 274.0C364.6 278.0 364.5 282.0 364.4 286.0C364.3 290.0 364.2 294.0 364.0 298.0C363.9 302.0 363.8 306.0 363.6 310.0C363.5 314.0 363.3 318.0 363.1 322.0C362.9 326.0 362.3 330.0 362.3 334.0C362.2 338.0 362.5 342.0 362.7 346.0C363.0 350.0 363.4 354.0 363.8 358.0C364.3 362.0 364.7 366.0 365.2 370.0C365.8 374.0 366.3 378.0 366.9 382.0C367.5 386.0 368.2 390.0 368.9 394.0C369.6 398.0 370.4 402.0 371.1 406.0C371.9 410.0 372.6 414.0 373.4 418.0C374.2 422.0 375.4 428.0 375.8 430.0" stroke="url(#uL)" stroke-width="5"/>
<path class="rd" d="M381.2 238.0C381.2 240.0 380.9 246.0 380.7 250.0C380.5 254.0 380.3 258.0 380.2 262.0C380.1 266.0 380.0 270.0 379.9 274.0C379.8 278.0 379.7 282.0 379.6 286.0C379.5 290.0 379.4 294.0 379.3 298.0C379.2 302.0 379.1 306.0 378.9 310.0C378.8 314.0 378.7 318.0 378.5 322.0C378.3 326.0 377.8 330.0 377.7 334.0C377.7 338.0 377.9 342.0 378.1 346.0C378.3 350.0 378.7 354.0 379.1 358.0C379.4 362.0 379.8 366.0 380.3 370.0C380.8 374.0 381.3 378.0 382.0 382.0C382.6 386.0 383.4 390.0 384.1 394.0C384.9 398.0 385.7 402.0 386.5 406.0C387.3 410.0 388.1 414.0 389.0 418.0C389.8 422.0 391.1 428.0 391.5 430.0" stroke="url(#uL)" stroke-width="5"/>
<path class="rd" d="M396.2 238.0C396.1 240.0 395.8 246.0 395.7 250.0C395.5 254.0 395.4 258.0 395.3 262.0C395.2 266.0 395.1 270.0 395.0 274.0C394.9 278.0 394.9 282.0 394.8 286.0C394.7 290.0 394.6 294.0 394.5 298.0C394.4 302.0 394.4 306.0 394.2 310.0C394.1 314.0 394.0 318.0 393.8 322.0C393.6 326.0 393.2 330.0 393.2 334.0C393.1 338.0 393.3 342.0 393.5 346.0C393.7 350.0 394.0 354.0 394.3 358.0C394.6 362.0 394.9 366.0 395.4 370.0C395.8 374.0 396.4 378.0 397.0 382.0C397.7 386.0 398.5 390.0 399.3 394.0C400.1 398.0 401.0 402.0 401.8 406.0C402.7 410.0 403.6 414.0 404.5 418.0C405.4 422.0 406.9 428.0 407.3 430.0" stroke="url(#uL)" stroke-width="5"/>
<path class="rd" d="M411.1 238.0C411.0 240.0 410.8 246.0 410.7 250.0C410.6 254.0 410.4 258.0 410.4 262.0C410.3 266.0 410.2 270.0 410.1 274.0C410.1 278.0 410.0 282.0 410.0 286.0C409.9 290.0 409.8 294.0 409.8 298.0C409.7 302.0 409.6 306.0 409.5 310.0C409.4 314.0 409.3 318.0 409.2 322.0C409.0 326.0 408.7 330.0 408.7 334.0C408.6 338.0 408.8 342.0 408.9 346.0C409.1 350.0 409.2 354.0 409.5 358.0C409.7 362.0 410.0 366.0 410.4 370.0C410.9 374.0 411.4 378.0 412.1 382.0C412.8 386.0 413.7 390.0 414.5 394.0C415.4 398.0 416.3 402.0 417.2 406.0C418.1 410.0 419.1 414.0 420.1 418.0C421.1 422.0 422.6 428.0 423.1 430.0" stroke="url(#uL)" stroke-width="5"/>
<path class="rd" d="M426.0 238.0C425.9 240.0 425.8 246.0 425.7 250.0C425.6 254.0 425.5 258.0 425.4 262.0C425.4 266.0 425.3 270.0 425.3 274.0C425.2 278.0 425.2 282.0 425.1 286.0C425.1 290.0 425.1 294.0 425.0 298.0C424.9 302.0 424.9 306.0 424.8 310.0C424.8 314.0 424.7 318.0 424.6 322.0C424.4 326.0 424.2 330.0 424.1 334.0C424.1 338.0 424.2 342.0 424.3 346.0C424.4 350.0 424.5 354.0 424.7 358.0C424.9 362.0 425.1 366.0 425.5 370.0C425.9 374.0 426.5 378.0 427.2 382.0C427.9 386.0 428.8 390.0 429.7 394.0C430.6 398.0 431.6 402.0 432.6 406.0C433.6 410.0 434.6 414.0 435.6 418.0C436.7 422.0 438.4 428.0 438.9 430.0" stroke="url(#uL)" stroke-width="5"/>
<path class="rd" d="M440.9 238.0C440.8 240.0 440.7 246.0 440.7 250.0C440.6 254.0 440.5 258.0 440.5 262.0C440.5 266.0 440.4 270.0 440.4 274.0C440.4 278.0 440.4 282.0 440.3 286.0C440.3 290.0 440.3 294.0 440.2 298.0C440.2 302.0 440.2 306.0 440.1 310.0C440.1 314.0 440.0 318.0 439.9 322.0C439.8 326.0 439.6 330.0 439.6 334.0C439.5 338.0 439.7 342.0 439.7 346.0C439.8 350.0 439.8 354.0 439.9 358.0C440.1 362.0 440.2 366.0 440.5 370.0C440.9 374.0 441.5 378.0 442.2 382.0C443.0 386.0 443.9 390.0 444.9 394.0C445.8 398.0 446.9 402.0 448.0 406.0C449.0 410.0 450.0 414.0 451.2 418.0C452.3 422.0 454.1 428.0 454.7 430.0" stroke="url(#uL)" stroke-width="5"/>
<path class="rd" d="M455.8 238.0C455.8 240.0 455.7 246.0 455.7 250.0C455.6 254.0 455.6 258.0 455.6 262.0C455.5 266.0 455.5 270.0 455.5 274.0C455.5 278.0 455.5 282.0 455.5 286.0C455.5 290.0 455.5 294.0 455.5 298.0C455.5 302.0 455.5 306.0 455.4 310.0C455.4 314.0 455.4 318.0 455.3 322.0C455.2 326.0 455.1 330.0 455.0 334.0C455.0 338.0 455.1 342.0 455.1 346.0C455.2 350.0 455.1 354.0 455.2 358.0C455.2 362.0 455.2 366.0 455.6 370.0C456.0 374.0 456.6 378.0 457.3 382.0C458.0 386.0 459.1 390.0 460.1 394.0C461.1 398.0 462.2 402.0 463.3 406.0C464.4 410.0 465.5 414.0 466.7 418.0C467.9 422.0 469.9 428.0 470.5 430.0" stroke="url(#uL)" stroke-width="5"/>
<path class="rd" d="M470.7 238.0C470.7 240.0 470.7 246.0 470.6 250.0C470.6 254.0 470.6 258.0 470.6 262.0C470.6 266.0 470.7 270.0 470.7 274.0C470.7 278.0 470.7 282.0 470.7 286.0C470.7 290.0 470.7 294.0 470.7 298.0C470.7 302.0 470.7 306.0 470.7 310.0C470.7 314.0 470.7 318.0 470.7 322.0C470.6 326.0 470.5 330.0 470.5 334.0C470.5 338.0 470.6 342.0 470.6 346.0C470.5 350.0 470.4 354.0 470.4 358.0C470.4 362.0 470.3 366.0 470.7 370.0C471.0 374.0 471.6 378.0 472.4 382.0C473.1 386.0 474.2 390.0 475.3 394.0C476.3 398.0 477.5 402.0 478.7 406.0C479.9 410.0 481.0 414.0 482.3 418.0C483.5 422.0 485.6 428.0 486.3 430.0" stroke="url(#uL)" stroke-width="5"/>
<path class="rd" d="M485.6 238.0C485.6 240.0 485.6 246.0 485.6 250.0C485.7 254.0 485.7 258.0 485.7 262.0C485.7 266.0 485.8 270.0 485.8 274.0C485.8 278.0 485.9 282.0 485.9 286.0C485.9 290.0 485.9 294.0 486.0 298.0C486.0 302.0 486.0 306.0 486.0 310.0C486.0 314.0 486.1 318.0 486.0 322.0C486.0 326.0 486.0 330.0 486.0 334.0C486.0 338.0 486.0 342.0 486.0 346.0C485.9 350.0 485.6 354.0 485.6 358.0C485.6 362.0 485.4 366.0 485.7 370.0C486.0 374.0 486.6 378.0 487.4 382.0C488.2 386.0 489.4 390.0 490.5 394.0C491.6 398.0 492.8 402.0 494.1 406.0C495.3 410.0 496.5 414.0 497.8 418.0C499.2 422.0 501.4 428.0 502.1 430.0" stroke="url(#uL)" stroke-width="5"/>
<path class="rd" d="M500.5 238.0C500.5 240.0 500.6 246.0 500.6 250.0C500.7 254.0 500.7 258.0 500.8 262.0C500.8 266.0 500.9 270.0 500.9 274.0C501.0 278.0 501.0 282.0 501.1 286.0C501.1 290.0 501.2 294.0 501.2 298.0C501.3 302.0 501.3 306.0 501.3 310.0C501.4 314.0 501.4 318.0 501.4 322.0C501.4 326.0 501.4 330.0 501.4 334.0C501.4 338.0 501.5 342.0 501.4 346.0C501.3 350.0 500.9 354.0 500.8 358.0C500.7 362.0 500.5 366.0 500.8 370.0C501.1 374.0 501.7 378.0 502.5 382.0C503.3 386.0 504.5 390.0 505.7 394.0C506.8 398.0 508.1 402.0 509.4 406.0C510.7 410.0 512.0 414.0 513.4 418.0C514.8 422.0 517.1 428.0 517.8 430.0" stroke="url(#uL)" stroke-width="5"/>
</g>
<g filter="url(#b05)">
<path class="rd" d="M362.6 396.0C362.9 397.8 363.8 403.0 364.5 406.5C365.1 410.0 365.8 413.5 366.4 417.0C367.1 420.5 367.7 424.0 368.4 427.5C369.0 431.0 369.7 434.5 370.3 438.0C370.9 441.5 371.5 445.0 371.9 448.5C372.3 452.0 372.6 455.5 372.9 459.0C373.2 462.5 373.3 466.0 373.5 469.5C373.8 473.0 373.9 476.5 374.3 480.0C374.6 483.5 375.1 487.0 375.5 490.5C375.9 494.0 376.4 497.5 376.6 501.0C376.8 504.5 376.8 508.0 376.7 511.5C376.7 515.0 376.6 518.5 376.4 522.0C376.2 525.5 376.1 529.0 375.7 532.5C375.4 536.0 375.0 539.5 374.6 543.0C374.1 546.5 373.6 550.0 373.1 553.5C372.6 557.0 372.1 560.5 371.5 564.0C370.8 567.5 370.1 571.0 369.4 574.5C368.8 578.0 368.1 581.5 367.5 585.0C366.8 588.5 366.2 592.0 365.6 595.5C365.0 599.0 364.4 602.5 363.9 606.0C363.3 609.5 362.7 613.0 362.2 616.5C361.7 620.0 361.2 623.5 360.8 627.0C360.3 630.5 360.0 634.0 359.6 637.5C359.2 641.0 358.9 644.5 358.5 648.0C358.2 651.5 357.8 655.0 357.5 658.5C357.2 662.0 356.9 665.5 356.8 669.0C356.7 672.5 356.7 676.0 356.8 679.5C356.9 683.0 357.2 686.5 357.4 690.0C357.5 693.5 357.6 697.0 357.7 700.5C357.8 704.0 357.9 707.5 358.0 711.0C358.2 714.5 358.4 718.0 358.7 721.5C359.0 725.0 359.3 728.5 359.6 732.0C359.9 735.5 360.1 739.0 360.5 742.5C360.8 746.0 361.1 749.5 361.5 753.0C361.8 756.5 362.3 761.8 362.5 763.5" stroke="url(#lDL)" stroke-width="1"/>
<path class="rd" d="M365.1 396.0C365.4 397.8 366.3 403.0 366.9 406.5C367.6 410.0 368.3 413.5 368.9 417.0C369.6 420.5 370.2 424.0 370.9 427.5C371.6 431.0 372.3 434.5 372.9 438.0C373.5 441.5 374.1 445.0 374.5 448.5C374.9 452.0 375.2 455.5 375.5 459.0C375.8 462.5 375.9 466.0 376.2 469.5C376.4 473.0 376.6 476.5 376.9 480.0C377.2 483.5 377.7 487.0 378.1 490.5C378.5 494.0 379.0 497.5 379.2 501.0C379.4 504.5 379.4 508.0 379.4 511.5C379.3 515.0 379.2 518.5 379.0 522.0C378.8 525.5 378.7 529.0 378.4 532.5C378.1 536.0 377.7 539.5 377.2 543.0C376.8 546.5 376.3 550.0 375.8 553.5C375.3 557.0 374.8 560.5 374.2 564.0C373.6 567.5 372.8 571.0 372.2 574.5C371.5 578.0 370.8 581.5 370.2 585.0C369.6 588.5 369.0 592.0 368.4 595.5C367.8 599.0 367.2 602.5 366.6 606.0C366.0 609.5 365.4 613.0 364.9 616.5C364.4 620.0 363.9 623.5 363.5 627.0C363.0 630.5 362.6 634.0 362.2 637.5C361.8 641.0 361.5 644.5 361.1 648.0C360.8 651.5 360.4 655.0 360.1 658.5C359.8 662.0 359.5 665.5 359.3 669.0C359.2 672.5 359.2 676.0 359.2 679.5C359.3 683.0 359.6 686.5 359.7 690.0C359.8 693.5 359.8 697.0 359.9 700.5C359.9 704.0 359.9 707.5 360.1 711.0C360.2 714.5 360.4 718.0 360.6 721.5C360.8 725.0 361.0 728.5 361.3 732.0C361.5 735.5 361.7 739.0 361.9 742.5C362.1 746.0 362.4 749.5 362.6 753.0C362.9 756.5 363.3 761.8 363.4 763.5" stroke="url(#lDL)" stroke-width="1"/>
<path class="rd" d="M374.9 396.0C375.2 397.8 376.2 403.0 376.9 406.5C377.5 410.0 378.2 413.5 378.9 417.0C379.6 420.5 380.3 424.0 381.0 427.5C381.7 431.0 382.5 434.5 383.1 438.0C383.7 441.5 384.3 445.0 384.8 448.5C385.3 452.0 385.6 455.5 385.9 459.0C386.2 462.5 386.4 466.0 386.6 469.5C386.9 473.0 387.0 476.5 387.4 480.0C387.7 483.5 388.2 487.0 388.6 490.5C389.0 494.0 389.5 497.5 389.7 501.0C389.9 504.5 389.8 508.0 389.8 511.5C389.7 515.0 389.6 518.5 389.4 522.0C389.2 525.5 389.1 529.0 388.9 532.5C388.6 536.0 388.2 539.5 387.8 543.0C387.4 546.5 386.9 550.0 386.4 553.5C385.9 557.0 385.4 560.5 384.9 564.0C384.3 567.5 383.5 571.0 382.9 574.5C382.2 578.0 381.6 581.5 380.9 585.0C380.3 588.5 379.6 592.0 379.0 595.5C378.4 599.0 377.8 602.5 377.2 606.0C376.5 609.5 375.9 613.0 375.4 616.5C374.8 620.0 374.3 623.5 373.8 627.0C373.4 630.5 372.9 634.0 372.5 637.5C372.0 641.0 371.6 644.5 371.2 648.0C370.8 651.5 370.3 655.0 369.9 658.5C369.6 662.0 369.2 665.5 368.9 669.0C368.7 672.5 368.5 676.0 368.4 679.5C368.3 683.0 368.4 686.5 368.4 690.0C368.3 693.5 368.2 697.0 368.1 700.5C368.0 704.0 367.9 707.5 367.8 711.0C367.8 714.5 367.7 718.0 367.7 721.5C367.7 725.0 367.7 728.5 367.6 732.0C367.6 735.5 367.5 739.0 367.4 742.5C367.3 746.0 367.2 749.5 367.1 753.0C367.0 756.5 366.9 761.8 366.8 763.5" stroke="url(#lDL)" stroke-width="1"/>
<path class="rd" d="M377.3 396.0C377.7 397.8 378.7 403.0 379.3 406.5C380.0 410.0 380.7 413.5 381.4 417.0C382.1 420.5 382.9 424.0 383.6 427.5C384.3 431.0 385.0 434.5 385.7 438.0C386.3 441.5 386.9 445.0 387.4 448.5C387.9 452.0 388.2 455.5 388.5 459.0C388.8 462.5 389.0 466.0 389.2 469.5C389.5 473.0 389.7 476.5 390.0 480.0C390.3 483.5 390.9 487.0 391.2 490.5C391.6 494.0 392.1 497.5 392.3 501.0C392.5 504.5 392.4 508.0 392.4 511.5C392.3 515.0 392.2 518.5 392.0 522.0C391.9 525.5 391.7 529.0 391.5 532.5C391.2 536.0 390.8 539.5 390.4 543.0C390.0 546.5 389.5 550.0 389.0 553.5C388.6 557.0 388.1 560.5 387.5 564.0C386.9 567.5 386.2 571.0 385.5 574.5C384.9 578.0 384.2 581.5 383.6 585.0C382.9 588.5 382.3 592.0 381.6 595.5C381.0 599.0 380.4 602.5 379.7 606.0C379.1 609.5 378.5 613.0 378.0 616.5C377.4 620.0 376.9 623.5 376.4 627.0C375.9 630.5 375.4 634.0 375.0 637.5C374.5 641.0 374.1 644.5 373.7 648.0C373.2 651.5 372.7 655.0 372.3 658.5C371.9 662.0 371.5 665.5 371.2 669.0C371.0 672.5 370.8 676.0 370.6 679.5C370.5 683.0 370.6 686.5 370.5 690.0C370.4 693.5 370.2 697.0 370.1 700.5C370.0 704.0 369.8 707.5 369.7 711.0C369.6 714.5 369.5 718.0 369.4 721.5C369.3 725.0 369.3 728.5 369.2 732.0C369.1 735.5 368.9 739.0 368.7 742.5C368.5 746.0 368.4 749.5 368.2 753.0C368.0 756.5 367.8 761.8 367.7 763.5" stroke="url(#lDL)" stroke-width="1"/>
<path class="rd" d="M386.9 396.0C387.2 397.8 388.2 403.0 389.0 406.5C389.7 410.0 390.4 413.5 391.2 417.0C391.9 420.5 392.7 424.0 393.4 427.5C394.2 431.0 395.0 434.5 395.6 438.0C396.3 441.5 396.9 445.0 397.4 448.5C397.9 452.0 398.2 455.5 398.6 459.0C398.9 462.5 399.1 466.0 399.4 469.5C399.7 473.0 399.8 476.5 400.2 480.0C400.5 483.5 401.0 487.0 401.4 490.5C401.8 494.0 402.2 497.5 402.4 501.0C402.6 504.5 402.5 508.0 402.5 511.5C402.4 515.0 402.2 518.5 402.1 522.0C401.9 525.5 401.8 529.0 401.6 532.5C401.3 536.0 401.0 539.5 400.6 543.0C400.2 546.5 399.7 550.0 399.2 553.5C398.8 557.0 398.3 560.5 397.7 564.0C397.1 567.5 396.4 571.0 395.7 574.5C395.1 578.0 394.4 581.5 393.7 585.0C393.1 588.5 392.4 592.0 391.7 595.5C391.0 599.0 390.3 602.5 389.7 606.0C389.0 609.5 388.4 613.0 387.8 616.5C387.2 620.0 386.6 623.5 386.1 627.0C385.5 630.5 385.0 634.0 384.5 637.5C384.0 641.0 383.5 644.5 383.0 648.0C382.5 651.5 381.9 655.0 381.4 658.5C380.9 662.0 380.5 665.5 380.1 669.0C379.7 672.5 379.3 676.0 379.1 679.5C378.8 683.0 378.7 686.5 378.5 690.0C378.3 693.5 378.0 697.0 377.7 700.5C377.4 704.0 377.1 707.5 376.8 711.0C376.5 714.5 376.3 718.0 376.0 721.5C375.7 725.0 375.4 728.5 375.1 732.0C374.7 735.5 374.2 739.0 373.7 742.5C373.3 746.0 372.8 749.5 372.3 753.0C371.9 756.5 371.1 761.8 370.8 763.5" stroke="url(#lDL)" stroke-width="1"/>
<path class="rd" d="M389.3 396.0C389.7 397.8 390.7 403.0 391.4 406.5C392.2 410.0 392.9 413.5 393.7 417.0C394.4 420.5 395.2 424.0 396.0 427.5C396.7 431.0 397.5 434.5 398.2 438.0C398.9 441.5 399.5 445.0 400.0 448.5C400.5 452.0 400.8 455.5 401.2 459.0C401.5 462.5 401.7 466.0 402.0 469.5C402.3 473.0 402.5 476.5 402.8 480.0C403.1 483.5 403.7 487.0 404.0 490.5C404.4 494.0 404.9 497.5 405.0 501.0C405.2 504.5 405.1 508.0 405.1 511.5C405.0 515.0 404.8 518.5 404.7 522.0C404.5 525.5 404.4 529.0 404.2 532.5C403.9 536.0 403.6 539.5 403.2 543.0C402.8 546.5 402.3 550.0 401.8 553.5C401.4 557.0 400.9 560.5 400.3 564.0C399.7 567.5 399.0 571.0 398.4 574.5C397.7 578.0 397.0 581.5 396.3 585.0C395.6 588.5 394.9 592.0 394.2 595.5C393.6 599.0 392.9 602.5 392.2 606.0C391.5 609.5 390.9 613.0 390.3 616.5C389.7 620.0 389.1 623.5 388.5 627.0C387.9 630.5 387.4 634.0 386.9 637.5C386.4 641.0 385.9 644.5 385.3 648.0C384.8 651.5 384.2 655.0 383.7 658.5C383.2 662.0 382.7 665.5 382.3 669.0C381.9 672.5 381.5 676.0 381.2 679.5C380.9 683.0 380.8 686.5 380.5 690.0C380.3 693.5 379.9 697.0 379.6 700.5C379.3 704.0 379.0 707.5 378.6 711.0C378.3 714.5 378.0 718.0 377.6 721.5C377.3 725.0 377.0 728.5 376.5 732.0C376.1 735.5 375.5 739.0 375.0 742.5C374.5 746.0 373.9 749.5 373.4 753.0C372.8 756.5 371.9 761.8 371.6 763.5" stroke="url(#lDL)" stroke-width="1"/>
<path class="rd" d="M401.1 396.0C401.5 397.8 402.6 403.0 403.4 406.5C404.1 410.0 404.9 413.5 405.7 417.0C406.5 420.5 407.4 424.0 408.2 427.5C409.0 431.0 409.8 434.5 410.5 438.0C411.2 441.5 411.9 445.0 412.4 448.5C412.9 452.0 413.3 455.5 413.7 459.0C414.0 462.5 414.3 466.0 414.6 469.5C414.9 473.0 415.1 476.5 415.4 480.0C415.8 483.5 416.3 487.0 416.6 490.5C417.0 494.0 417.4 497.5 417.6 501.0C417.8 504.5 417.7 508.0 417.6 511.5C417.6 515.0 417.4 518.5 417.2 522.0C417.1 525.5 417.0 529.0 416.7 532.5C416.4 536.0 416.1 539.5 415.7 543.0C415.3 546.5 414.8 550.0 414.4 553.5C413.9 557.0 413.4 560.5 412.8 564.0C412.2 567.5 411.5 571.0 410.8 574.5C410.1 578.0 409.4 581.5 408.7 585.0C408.0 588.5 407.2 592.0 406.5 595.5C405.7 599.0 405.0 602.5 404.2 606.0C403.5 609.5 402.8 613.0 402.1 616.5C401.5 620.0 400.8 623.5 400.2 627.0C399.5 630.5 398.9 634.0 398.3 637.5C397.7 641.0 397.1 644.5 396.5 648.0C395.9 651.5 395.2 655.0 394.6 658.5C394.0 662.0 393.4 665.5 392.8 669.0C392.3 672.5 391.7 676.0 391.3 679.5C390.8 683.0 390.5 686.5 390.1 690.0C389.6 693.5 389.2 697.0 388.7 700.5C388.2 704.0 387.7 707.5 387.1 711.0C386.6 714.5 386.1 718.0 385.5 721.5C384.9 725.0 384.3 728.5 383.5 732.0C382.8 735.5 381.9 739.0 381.0 742.5C380.1 746.0 379.2 749.5 378.3 753.0C377.4 756.5 375.9 761.8 375.4 763.5" stroke="url(#lDL)" stroke-width="1"/>
<path class="rd" d="M403.6 396.0C404.0 397.8 405.1 403.0 405.9 406.5C406.6 410.0 407.4 413.5 408.2 417.0C409.0 420.5 409.9 424.0 410.7 427.5C411.6 431.0 412.4 434.5 413.1 438.0C413.8 441.5 414.4 445.0 415.0 448.5C415.5 452.0 415.9 455.5 416.3 459.0C416.6 462.5 416.9 466.0 417.2 469.5C417.5 473.0 417.7 476.5 418.1 480.0C418.4 483.5 418.9 487.0 419.3 490.5C419.6 494.0 420.0 497.5 420.2 501.0C420.4 504.5 420.3 508.0 420.2 511.5C420.2 515.0 420.0 518.5 419.8 522.0C419.7 525.5 419.5 529.0 419.3 532.5C419.0 536.0 418.7 539.5 418.3 543.0C417.9 546.5 417.4 550.0 417.0 553.5C416.5 557.0 416.0 560.5 415.4 564.0C414.8 567.5 414.1 571.0 413.4 574.5C412.7 578.0 412.0 581.5 411.3 585.0C410.5 588.5 409.7 592.0 409.0 595.5C408.2 599.0 407.4 602.5 406.7 606.0C406.0 609.5 405.3 613.0 404.6 616.5C403.9 620.0 403.2 623.5 402.6 627.0C401.9 630.5 401.3 634.0 400.7 637.5C400.0 641.0 399.4 644.5 398.8 648.0C398.2 651.5 397.5 655.0 396.8 658.5C396.2 662.0 395.6 665.5 395.0 669.0C394.4 672.5 393.8 676.0 393.3 679.5C392.8 683.0 392.5 686.5 392.0 690.0C391.6 693.5 391.1 697.0 390.5 700.5C390.0 704.0 389.4 707.5 388.9 711.0C388.3 714.5 387.7 718.0 387.1 721.5C386.4 725.0 385.8 728.5 385.0 732.0C384.2 735.5 383.2 739.0 382.2 742.5C381.3 746.0 380.3 749.5 379.3 753.0C378.3 756.5 376.7 761.8 376.2 763.5" stroke="url(#lDL)" stroke-width="1"/>
<path class="rd" d="M411.5 396.0C411.9 397.8 413.0 403.0 413.8 406.5C414.6 410.0 415.4 413.5 416.3 417.0C417.1 420.5 418.1 424.0 418.9 427.5C419.7 431.0 420.6 434.5 421.3 438.0C422.1 441.5 422.7 445.0 423.3 448.5C423.8 452.0 424.2 455.5 424.6 459.0C425.0 462.5 425.3 466.0 425.6 469.5C425.9 473.0 426.2 476.5 426.5 480.0C426.8 483.5 427.3 487.0 427.7 490.5C428.0 494.0 428.5 497.5 428.6 501.0C428.8 504.5 428.7 508.0 428.6 511.5C428.5 515.0 428.3 518.5 428.2 522.0C428.0 525.5 427.9 529.0 427.6 532.5C427.4 536.0 427.0 539.5 426.6 543.0C426.2 546.5 425.8 550.0 425.3 553.5C424.8 557.0 424.3 560.5 423.7 564.0C423.1 567.5 422.4 571.0 421.7 574.5C421.0 578.0 420.2 581.5 419.5 585.0C418.7 588.5 417.8 592.0 417.0 595.5C416.2 599.0 415.4 602.5 414.6 606.0C413.9 609.5 413.1 613.0 412.4 616.5C411.7 620.0 410.9 623.5 410.2 627.0C409.5 630.5 408.8 634.0 408.2 637.5C407.5 641.0 406.8 644.5 406.1 648.0C405.4 651.5 404.6 655.0 403.9 658.5C403.2 662.0 402.5 665.5 401.8 669.0C401.2 672.5 400.5 676.0 399.9 679.5C399.3 683.0 398.8 686.5 398.3 690.0C397.7 693.5 397.1 697.0 396.4 700.5C395.8 704.0 395.1 707.5 394.4 711.0C393.7 714.5 393.0 718.0 392.1 721.5C391.3 725.0 390.5 728.5 389.5 732.0C388.5 735.5 387.3 739.0 386.2 742.5C385.0 746.0 383.8 749.5 382.5 753.0C381.3 756.5 379.3 761.8 378.7 763.5" stroke="url(#lDL)" stroke-width="1"/>
<path class="rd" d="M413.9 396.0C414.3 397.8 415.5 403.0 416.3 406.5C417.1 410.0 417.9 413.5 418.8 417.0C419.6 420.5 420.6 424.0 421.4 427.5C422.3 431.0 423.2 434.5 423.9 438.0C424.6 441.5 425.3 445.0 425.9 448.5C426.4 452.0 426.8 455.5 427.2 459.0C427.6 462.5 427.9 466.0 428.2 469.5C428.5 473.0 428.8 476.5 429.1 480.0C429.5 483.5 430.0 487.0 430.3 490.5C430.7 494.0 431.1 497.5 431.2 501.0C431.4 504.5 431.3 508.0 431.2 511.5C431.1 515.0 430.9 518.5 430.8 522.0C430.6 525.5 430.5 529.0 430.2 532.5C430.0 536.0 429.6 539.5 429.2 543.0C428.8 546.5 428.3 550.0 427.9 553.5C427.4 557.0 426.9 560.5 426.3 564.0C425.7 567.5 424.9 571.0 424.2 574.5C423.5 578.0 422.8 581.5 422.0 585.0C421.2 588.5 420.3 592.0 419.5 595.5C418.7 599.0 417.9 602.5 417.1 606.0C416.3 609.5 415.5 613.0 414.8 616.5C414.0 620.0 413.3 623.5 412.6 627.0C411.9 630.5 411.2 634.0 410.5 637.5C409.8 641.0 409.1 644.5 408.4 648.0C407.6 651.5 406.9 655.0 406.1 658.5C405.4 662.0 404.7 665.5 404.0 669.0C403.3 672.5 402.5 676.0 401.9 679.5C401.3 683.0 400.8 686.5 400.2 690.0C399.6 693.5 398.9 697.0 398.2 700.5C397.6 704.0 396.9 707.5 396.1 711.0C395.3 714.5 394.6 718.0 393.7 721.5C392.9 725.0 392.0 728.5 390.9 732.0C389.9 735.5 388.6 739.0 387.4 742.5C386.1 746.0 384.8 749.5 383.5 753.0C382.2 756.5 380.1 761.8 379.4 763.5" stroke="url(#lDL)" stroke-width="1"/>
<path class="rd" d="M420.8 396.0C421.2 397.8 422.4 403.0 423.2 406.5C424.1 410.0 424.9 413.5 425.8 417.0C426.7 420.5 427.7 424.0 428.6 427.5C429.4 431.0 430.3 434.5 431.1 438.0C431.8 441.5 432.5 445.0 433.1 448.5C433.7 452.0 434.1 455.5 434.5 459.0C434.9 462.5 435.2 466.0 435.6 469.5C435.9 473.0 436.1 476.5 436.5 480.0C436.8 483.5 437.3 487.0 437.6 490.5C438.0 494.0 438.4 497.5 438.5 501.0C438.7 504.5 438.6 508.0 438.5 511.5C438.4 515.0 438.2 518.5 438.0 522.0C437.9 525.5 437.7 529.0 437.5 532.5C437.2 536.0 436.8 539.5 436.4 543.0C436.0 546.5 435.6 550.0 435.1 553.5C434.6 557.0 434.1 560.5 433.4 564.0C432.8 567.5 432.1 571.0 431.4 574.5C430.6 578.0 429.9 581.5 429.1 585.0C428.2 588.5 427.3 592.0 426.5 595.5C425.6 599.0 424.8 602.5 423.9 606.0C423.1 609.5 422.3 613.0 421.5 616.5C420.7 620.0 420.0 623.5 419.2 627.0C418.4 630.5 417.7 634.0 416.9 637.5C416.1 641.0 415.4 644.5 414.6 648.0C413.8 651.5 413.0 655.0 412.2 658.5C411.4 662.0 410.6 665.5 409.8 669.0C409.0 672.5 408.3 676.0 407.5 679.5C406.8 683.0 406.2 686.5 405.5 690.0C404.8 693.5 404.1 697.0 403.3 700.5C402.5 704.0 401.7 707.5 400.8 711.0C400.0 714.5 399.1 718.0 398.1 721.5C397.1 725.0 396.1 728.5 394.8 732.0C393.6 735.5 392.1 739.0 390.7 742.5C389.3 746.0 387.8 749.5 386.3 753.0C384.7 756.5 382.3 761.8 381.5 763.5" stroke="url(#lDL)" stroke-width="1"/>
<path class="rd" d="M423.3 396.0C423.7 397.8 424.9 403.0 425.7 406.5C426.6 410.0 427.4 413.5 428.3 417.0C429.2 420.5 430.2 424.0 431.1 427.5C432.0 431.0 432.9 434.5 433.6 438.0C434.4 441.5 435.1 445.0 435.7 448.5C436.2 452.0 436.7 455.5 437.1 459.0C437.5 462.5 437.8 466.0 438.2 469.5C438.5 473.0 438.8 476.5 439.1 480.0C439.5 483.5 439.9 487.0 440.3 490.5C440.6 494.0 441.0 497.5 441.1 501.0C441.3 504.5 441.2 508.0 441.1 511.5C441.0 515.0 440.8 518.5 440.6 522.0C440.5 525.5 440.3 529.0 440.1 532.5C439.8 536.0 439.4 539.5 439.0 543.0C438.6 546.5 438.1 550.0 437.6 553.5C437.1 557.0 436.6 560.5 436.0 564.0C435.4 567.5 434.6 571.0 433.9 574.5C433.2 578.0 432.4 581.5 431.6 585.0C430.8 588.5 429.8 592.0 429.0 595.5C428.1 599.0 427.2 602.5 426.4 606.0C425.5 609.5 424.7 613.0 423.9 616.5C423.1 620.0 422.3 623.5 421.5 627.0C420.7 630.5 420.0 634.0 419.2 637.5C418.4 641.0 417.6 644.5 416.8 648.0C416.0 651.5 415.2 655.0 414.4 658.5C413.5 662.0 412.7 665.5 411.9 669.0C411.1 672.5 410.3 676.0 409.5 679.5C408.8 683.0 408.1 686.5 407.4 690.0C406.7 693.5 405.9 697.0 405.1 700.5C404.3 704.0 403.4 707.5 402.5 711.0C401.6 714.5 400.7 718.0 399.6 721.5C398.6 725.0 397.5 728.5 396.2 732.0C394.9 735.5 393.4 739.0 391.9 742.5C390.4 746.0 388.8 749.5 387.2 753.0C385.6 756.5 383.1 761.8 382.3 763.5" stroke="url(#lDL)" stroke-width="1"/>
<path class="rd" d="M430.4 396.0C430.9 397.8 432.1 403.0 433.0 406.5C433.8 410.0 434.7 413.5 435.6 417.0C436.5 420.5 437.6 424.0 438.5 427.5C439.4 431.0 440.3 434.5 441.1 438.0C441.9 441.5 442.6 445.0 443.2 448.5C443.8 452.0 444.3 455.5 444.7 459.0C445.1 462.5 445.5 466.0 445.8 469.5C446.1 473.0 446.4 476.5 446.8 480.0C447.1 483.5 447.6 487.0 447.9 490.5C448.2 494.0 448.6 497.5 448.8 501.0C448.9 504.5 448.8 508.0 448.7 511.5C448.6 515.0 448.4 518.5 448.2 522.0C448.0 525.5 447.9 529.0 447.6 532.5C447.3 536.0 447.0 539.5 446.5 543.0C446.1 546.5 445.7 550.0 445.1 553.5C444.6 557.0 444.1 560.5 443.5 564.0C442.8 567.5 442.1 571.0 441.3 574.5C440.6 578.0 439.8 581.5 438.9 585.0C438.0 588.5 437.1 592.0 436.2 595.5C435.2 599.0 434.3 602.5 433.4 606.0C432.5 609.5 431.7 613.0 430.8 616.5C430.0 620.0 429.2 623.5 428.3 627.0C427.5 630.5 426.7 634.0 425.8 637.5C425.0 641.0 424.2 644.5 423.3 648.0C422.4 651.5 421.5 655.0 420.6 658.5C419.7 662.0 418.8 665.5 417.9 669.0C417.1 672.5 416.1 676.0 415.3 679.5C414.4 683.0 413.7 686.5 412.9 690.0C412.0 693.5 411.2 697.0 410.3 700.5C409.4 704.0 408.4 707.5 407.4 711.0C406.4 714.5 405.3 718.0 404.1 721.5C402.9 725.0 401.7 728.5 400.2 732.0C398.8 735.5 397.0 739.0 395.3 742.5C393.6 746.0 391.9 749.5 390.0 753.0C388.2 756.5 385.4 761.8 384.5 763.5" stroke="url(#lDM)" stroke-width="3.1"/>
<path class="rd" d="M438.9 585.0C438.4 586.8 437.1 592.0 436.2 595.5C435.2 599.0 434.3 602.5 433.4 606.0C432.5 609.5 431.7 613.0 430.8 616.5C430.0 620.0 429.2 623.5 428.3 627.0C427.5 630.5 426.7 634.0 425.8 637.5C425.0 641.0 424.2 644.5 423.3 648.0C422.4 651.5 421.5 655.0 420.6 658.5C419.7 662.0 418.8 665.5 417.9 669.0C417.1 672.5 416.1 676.0 415.3 679.5C414.4 683.0 413.7 686.5 412.9 690.0C412.0 693.5 411.2 697.0 410.3 700.5C409.4 704.0 408.4 707.5 407.4 711.0C406.4 714.5 405.3 718.0 404.1 721.5C402.9 725.0 401.7 728.5 400.2 732.0C398.8 735.5 397.0 739.0 395.3 742.5C393.6 746.0 391.9 749.5 390.0 753.0C388.2 756.5 385.4 761.8 384.5 763.5" stroke="url(#lDT)" stroke-width="1.4"/>
<path class="rd" d="M441.6 396.0C442.1 397.8 443.4 403.0 444.3 406.5C445.2 410.0 446.1 413.5 447.0 417.0C448.0 420.5 449.1 424.0 450.1 427.5C451.0 431.0 452.0 434.5 452.8 438.0C453.6 441.5 454.3 445.0 455.0 448.5C455.6 452.0 456.1 455.5 456.5 459.0C457.0 462.5 457.4 466.0 457.7 469.5C458.1 473.0 458.4 476.5 458.7 480.0C459.1 483.5 459.5 487.0 459.9 490.5C460.2 494.0 460.5 497.5 460.7 501.0C460.8 504.5 460.7 508.0 460.6 511.5C460.5 515.0 460.3 518.5 460.1 522.0C459.9 525.5 459.7 529.0 459.4 532.5C459.1 536.0 458.7 539.5 458.3 543.0C457.8 546.5 457.4 550.0 456.8 553.5C456.3 557.0 455.7 560.5 455.1 564.0C454.4 567.5 453.6 571.0 452.8 574.5C452.0 578.0 451.2 581.5 450.3 585.0C449.4 588.5 448.3 592.0 447.3 595.5C446.4 599.0 445.3 602.5 444.4 606.0C443.4 609.5 442.5 613.0 441.6 616.5C440.7 620.0 439.8 623.5 438.9 627.0C437.9 630.5 437.0 634.0 436.1 637.5C435.2 641.0 434.3 644.5 433.3 648.0C432.3 651.5 431.3 655.0 430.3 658.5C429.3 662.0 428.3 665.5 427.3 669.0C426.2 672.5 425.2 676.0 424.2 679.5C423.2 683.0 422.3 686.5 421.3 690.0C420.3 693.5 419.4 697.0 418.3 700.5C417.2 704.0 416.1 707.5 414.9 711.0C413.7 714.5 412.4 718.0 411.0 721.5C409.6 725.0 408.2 728.5 406.4 732.0C404.7 735.5 402.7 739.0 400.6 742.5C398.6 746.0 396.5 749.5 394.4 753.0C392.3 756.5 388.9 761.8 387.8 763.5" stroke="url(#lDM)" stroke-width="4.2"/>
<path class="rd" d="M450.3 585.0C449.8 586.8 448.3 592.0 447.3 595.5C446.4 599.0 445.3 602.5 444.4 606.0C443.4 609.5 442.5 613.0 441.6 616.5C440.7 620.0 439.8 623.5 438.9 627.0C437.9 630.5 437.0 634.0 436.1 637.5C435.2 641.0 434.3 644.5 433.3 648.0C432.3 651.5 431.3 655.0 430.3 658.5C429.3 662.0 428.3 665.5 427.3 669.0C426.2 672.5 425.2 676.0 424.2 679.5C423.2 683.0 422.3 686.5 421.3 690.0C420.3 693.5 419.4 697.0 418.3 700.5C417.2 704.0 416.1 707.5 414.9 711.0C413.7 714.5 412.4 718.0 411.0 721.5C409.6 725.0 408.2 728.5 406.4 732.0C404.7 735.5 402.7 739.0 400.6 742.5C398.6 746.0 396.5 749.5 394.4 753.0C392.3 756.5 388.9 761.8 387.8 763.5" stroke="url(#lDT)" stroke-width="1.8"/>
<path class="rd" d="M456.5 396.0C457.0 397.8 458.4 403.0 459.3 406.5C460.3 410.0 461.2 413.5 462.3 417.0C463.3 420.5 464.5 424.0 465.5 427.5C466.5 431.0 467.5 434.5 468.4 438.0C469.2 441.5 470.0 445.0 470.6 448.5C471.3 452.0 471.8 455.5 472.3 459.0C472.8 462.5 473.2 466.0 473.6 469.5C474.0 473.0 474.3 476.5 474.7 480.0C475.0 483.5 475.5 487.0 475.8 490.5C476.1 494.0 476.4 497.5 476.5 501.0C476.6 504.5 476.5 508.0 476.4 511.5C476.3 515.0 476.1 518.5 475.8 522.0C475.6 525.5 475.4 529.0 475.1 532.5C474.8 536.0 474.3 539.5 473.9 543.0C473.4 546.5 472.9 550.0 472.3 553.5C471.8 557.0 471.2 560.5 470.5 564.0C469.8 567.5 469.0 571.0 468.1 574.5C467.3 578.0 466.4 581.5 465.4 585.0C464.4 588.5 463.2 592.0 462.1 595.5C461.1 599.0 459.9 602.5 458.9 606.0C457.8 609.5 456.8 613.0 455.8 616.5C454.8 620.0 453.8 623.5 452.8 627.0C451.7 630.5 450.7 634.0 449.6 637.5C448.6 641.0 447.5 644.5 446.4 648.0C445.3 651.5 444.2 655.0 443.0 658.5C441.9 662.0 440.7 665.5 439.5 669.0C438.3 672.5 437.1 676.0 435.9 679.5C434.7 683.0 433.6 686.5 432.4 690.0C431.3 693.5 430.1 697.0 428.8 700.5C427.5 704.0 426.2 707.5 424.8 711.0C423.3 714.5 421.8 718.0 420.1 721.5C418.4 725.0 416.6 728.5 414.6 732.0C412.5 735.5 410.0 739.0 407.6 742.5C405.2 746.0 402.7 749.5 400.1 753.0C397.6 756.5 393.5 761.8 392.2 763.5" stroke="url(#lDR)" stroke-width="8.1"/>
<path class="rd" d="M465.4 585.0C464.8 586.8 463.2 592.0 462.1 595.5C461.1 599.0 459.9 602.5 458.9 606.0C457.8 609.5 456.8 613.0 455.8 616.5C454.8 620.0 453.8 623.5 452.8 627.0C451.7 630.5 450.7 634.0 449.6 637.5C448.6 641.0 447.5 644.5 446.4 648.0C445.3 651.5 444.2 655.0 443.0 658.5C441.9 662.0 440.7 665.5 439.5 669.0C438.3 672.5 437.1 676.0 435.9 679.5C434.7 683.0 433.6 686.5 432.4 690.0C431.3 693.5 430.1 697.0 428.8 700.5C427.5 704.0 426.2 707.5 424.8 711.0C423.3 714.5 421.8 718.0 420.1 721.5C418.4 725.0 416.6 728.5 414.6 732.0C412.5 735.5 410.0 739.0 407.6 742.5C405.2 746.0 402.7 749.5 400.1 753.0C397.6 756.5 393.5 761.8 392.2 763.5" stroke="url(#lDT)" stroke-width="2.2"/>
<path class="rd" d="M474.3 396.0C474.8 397.8 476.2 403.0 477.2 406.5C478.3 410.0 479.2 413.5 480.3 417.0C481.4 420.5 482.7 424.0 483.8 427.5C484.9 431.0 486.0 434.5 486.9 438.0C487.8 441.5 488.6 445.0 489.3 448.5C490.0 452.0 490.6 455.5 491.1 459.0C491.6 462.5 492.1 466.0 492.5 469.5C492.9 473.0 493.3 476.5 493.6 480.0C494.0 483.5 494.4 487.0 494.7 490.5C495.0 494.0 495.3 497.5 495.4 501.0C495.5 504.5 495.4 508.0 495.2 511.5C495.1 515.0 494.8 518.5 494.6 522.0C494.3 525.5 494.1 529.0 493.7 532.5C493.3 536.0 492.9 539.5 492.4 543.0C491.9 546.5 491.3 550.0 490.7 553.5C490.1 557.0 489.5 560.5 488.7 564.0C487.9 567.5 487.1 571.0 486.2 574.5C485.3 578.0 484.3 581.5 483.2 585.0C482.1 588.5 480.8 592.0 479.6 595.5C478.4 599.0 477.1 602.5 476.0 606.0C474.8 609.5 473.7 613.0 472.5 616.5C471.4 620.0 470.2 623.5 469.1 627.0C467.9 630.5 466.7 634.0 465.5 637.5C464.3 641.0 463.1 644.5 461.8 648.0C460.6 651.5 459.3 655.0 457.9 658.5C456.6 662.0 455.2 665.5 453.8 669.0C452.4 672.5 451.0 676.0 449.6 679.5C448.2 683.0 446.8 686.5 445.4 690.0C444.0 693.5 442.6 697.0 441.1 700.5C439.6 704.0 438.1 707.5 436.3 711.0C434.6 714.5 432.8 718.0 430.7 721.5C428.7 725.0 426.6 728.5 424.1 732.0C421.6 735.5 418.7 739.0 415.8 742.5C412.9 746.0 409.9 749.5 406.8 753.0C403.7 756.5 398.9 761.8 397.3 763.5" stroke="url(#lDR)" stroke-width="9.8"/>
<path class="rd" d="M483.2 585.0C482.6 586.8 480.8 592.0 479.6 595.5C478.4 599.0 477.1 602.5 476.0 606.0C474.8 609.5 473.7 613.0 472.5 616.5C471.4 620.0 470.2 623.5 469.1 627.0C467.9 630.5 466.7 634.0 465.5 637.5C464.3 641.0 463.1 644.5 461.8 648.0C460.6 651.5 459.3 655.0 457.9 658.5C456.6 662.0 455.2 665.5 453.8 669.0C452.4 672.5 451.0 676.0 449.6 679.5C448.2 683.0 446.8 686.5 445.4 690.0C444.0 693.5 442.6 697.0 441.1 700.5C439.6 704.0 438.1 707.5 436.3 711.0C434.6 714.5 432.8 718.0 430.7 721.5C428.7 725.0 426.6 728.5 424.1 732.0C421.6 735.5 418.7 739.0 415.8 742.5C412.9 746.0 409.9 749.5 406.8 753.0C403.7 756.5 398.9 761.8 397.3 763.5" stroke="url(#lDT)" stroke-width="2.2"/>
<path class="rd" d="M496.2 396.0C496.7 397.8 498.3 403.0 499.4 406.5C500.5 410.0 501.5 413.5 502.7 417.0C503.9 420.5 505.3 424.0 506.5 427.5C507.7 431.0 508.8 434.5 509.8 438.0C510.7 441.5 511.5 445.0 512.3 448.5C513.0 452.0 513.7 455.5 514.3 459.0C514.9 462.5 515.4 466.0 515.9 469.5C516.3 473.0 516.7 476.5 517.1 480.0C517.4 483.5 517.8 487.0 518.1 490.5C518.4 494.0 518.6 497.5 518.7 501.0C518.8 504.5 518.6 508.0 518.5 511.5C518.3 515.0 518.0 518.5 517.7 522.0C517.4 525.5 517.1 529.0 516.7 532.5C516.3 536.0 515.7 539.5 515.2 543.0C514.6 546.5 514.0 550.0 513.4 553.5C512.7 557.0 512.0 560.5 511.1 564.0C510.3 567.5 509.4 571.0 508.4 574.5C507.4 578.0 506.3 581.5 505.1 585.0C503.8 588.5 502.3 592.0 501.0 595.5C499.6 599.0 498.2 602.5 496.9 606.0C495.5 609.5 494.3 613.0 493.0 616.5C491.7 620.0 490.4 623.5 489.0 627.0C487.7 630.5 486.3 634.0 484.9 637.5C483.5 641.0 482.1 644.5 480.6 648.0C479.2 651.5 477.6 655.0 476.1 658.5C474.5 662.0 472.9 665.5 471.3 669.0C469.6 672.5 467.9 676.0 466.2 679.5C464.6 683.0 462.9 686.5 461.2 690.0C459.5 693.5 457.9 697.0 456.1 700.5C454.3 704.0 452.5 707.5 450.4 711.0C448.3 714.5 446.1 718.0 443.7 721.5C441.2 725.0 438.6 728.5 435.6 732.0C432.7 735.5 429.2 739.0 425.7 742.5C422.3 746.0 418.7 749.5 415.0 753.0C411.3 756.5 405.5 761.8 403.6 763.5" stroke="url(#lDR)" stroke-width="10.6"/>
<path class="rd" d="M505.1 585.0C504.4 586.8 502.3 592.0 501.0 595.5C499.6 599.0 498.2 602.5 496.9 606.0C495.5 609.5 494.3 613.0 493.0 616.5C491.7 620.0 490.4 623.5 489.0 627.0C487.7 630.5 486.3 634.0 484.9 637.5C483.5 641.0 482.1 644.5 480.6 648.0C479.2 651.5 477.6 655.0 476.1 658.5C474.5 662.0 472.9 665.5 471.3 669.0C469.6 672.5 467.9 676.0 466.2 679.5C464.6 683.0 462.9 686.5 461.2 690.0C459.5 693.5 457.9 697.0 456.1 700.5C454.3 704.0 452.5 707.5 450.4 711.0C448.3 714.5 446.1 718.0 443.7 721.5C441.2 725.0 438.6 728.5 435.6 732.0C432.7 735.5 429.2 739.0 425.7 742.5C422.3 746.0 418.7 749.5 415.0 753.0C411.3 756.5 405.5 761.8 403.6 763.5" stroke="url(#lDT)" stroke-width="2.2"/>
<path class="rd" d="M357.0 396.0C357.3 397.8 358.2 403.0 358.8 406.5C359.4 410.0 360.1 413.5 360.7 417.0C361.3 420.5 362.0 424.0 362.6 427.5C363.2 431.0 363.9 434.5 364.5 438.0C365.1 441.5 365.6 445.0 366.0 448.5C366.5 452.0 366.7 455.5 367.0 459.0C367.2 462.5 367.4 466.0 367.6 469.5C367.8 473.0 368.0 476.5 368.3 480.0C368.6 483.5 369.2 487.0 369.6 490.5C370.0 494.0 370.5 497.5 370.7 501.0C370.9 504.5 370.9 508.0 370.8 511.5C370.8 515.0 370.6 518.5 370.5 522.0C370.3 525.5 370.1 529.0 369.7 532.5C369.4 536.0 368.9 539.5 368.5 543.0C368.0 546.5 367.4 550.0 366.9 553.5C366.3 557.0 365.8 560.5 365.2 564.0C364.5 567.5 363.8 571.0 363.1 574.5C362.4 578.0 361.7 581.5 361.1 585.0C360.4 588.5 359.8 592.0 359.2 595.5C358.6 599.0 358.0 602.5 357.5 606.0C356.9 609.5 356.3 613.0 355.8 616.5C355.3 620.0 354.8 623.5 354.4 627.0C354.0 630.5 353.6 634.0 353.3 637.5C352.9 641.0 352.6 644.5 352.3 648.0C352.0 651.5 351.6 655.0 351.3 658.5C351.1 662.0 350.8 665.5 350.8 669.0C350.7 672.5 350.9 676.0 351.1 679.5C351.2 683.0 351.7 686.5 351.9 690.0C352.1 693.5 352.3 697.0 352.5 700.5C352.7 704.0 352.9 707.5 353.2 711.0C353.5 714.5 353.8 718.0 354.2 721.5C354.6 725.0 355.1 728.5 355.6 732.0C356.0 735.5 356.5 739.0 357.0 742.5C357.5 746.0 358.1 749.5 358.6 753.0C359.2 756.5 360.0 761.8 360.3 763.5" stroke="url(#lL)" stroke-width="3.8"/>
<path class="rd" d="M368.4 396.0C368.7 397.8 369.6 403.0 370.2 406.5C370.9 410.0 371.6 413.5 372.2 417.0C372.9 420.5 373.6 424.0 374.3 427.5C375.0 431.0 375.7 434.5 376.3 438.0C376.9 441.5 377.5 445.0 377.9 448.5C378.4 452.0 378.7 455.5 379.0 459.0C379.2 462.5 379.4 466.0 379.6 469.5C379.9 473.0 380.0 476.5 380.4 480.0C380.7 483.5 381.2 487.0 381.6 490.5C382.0 494.0 382.5 497.5 382.7 501.0C382.9 504.5 382.9 508.0 382.8 511.5C382.8 515.0 382.6 518.5 382.5 522.0C382.3 525.5 382.2 529.0 381.9 532.5C381.6 536.0 381.2 539.5 380.8 543.0C380.3 546.5 379.8 550.0 379.3 553.5C378.8 557.0 378.3 560.5 377.7 564.0C377.2 567.5 376.4 571.0 375.8 574.5C375.1 578.0 374.4 581.5 373.8 585.0C373.2 588.5 372.6 592.0 371.9 595.5C371.3 599.0 370.7 602.5 370.1 606.0C369.6 609.5 369.0 613.0 368.5 616.5C367.9 620.0 367.4 623.5 367.0 627.0C366.5 630.5 366.1 634.0 365.7 637.5C365.3 641.0 364.9 644.5 364.6 648.0C364.2 651.5 363.8 655.0 363.4 658.5C363.1 662.0 362.8 665.5 362.6 669.0C362.4 672.5 362.4 676.0 362.4 679.5C362.4 683.0 362.6 686.5 362.6 690.0C362.7 693.5 362.6 697.0 362.7 700.5C362.7 704.0 362.6 707.5 362.7 711.0C362.8 714.5 362.9 718.0 363.0 721.5C363.1 725.0 363.3 728.5 363.4 732.0C363.6 735.5 363.6 739.0 363.8 742.5C363.9 746.0 364.0 749.5 364.2 753.0C364.3 756.5 364.5 761.8 364.6 763.5" stroke="url(#lL)" stroke-width="4.5"/>
<path class="rd" d="M380.5 396.0C380.8 397.8 381.8 403.0 382.5 406.5C383.2 410.0 383.9 413.5 384.6 417.0C385.3 420.5 386.1 424.0 386.8 427.5C387.5 431.0 388.3 434.5 388.9 438.0C389.6 441.5 390.2 445.0 390.7 448.5C391.1 452.0 391.5 455.5 391.8 459.0C392.1 462.5 392.3 466.0 392.6 469.5C392.8 473.0 393.0 476.5 393.3 480.0C393.7 483.5 394.2 487.0 394.6 490.5C394.9 494.0 395.4 497.5 395.6 501.0C395.8 504.5 395.7 508.0 395.7 511.5C395.6 515.0 395.5 518.5 395.3 522.0C395.2 525.5 395.1 529.0 394.8 532.5C394.5 536.0 394.2 539.5 393.8 543.0C393.4 546.5 392.9 550.0 392.4 553.5C391.9 557.0 391.4 560.5 390.9 564.0C390.3 567.5 389.6 571.0 388.9 574.5C388.3 578.0 387.6 581.5 386.9 585.0C386.3 588.5 385.6 592.0 384.9 595.5C384.3 599.0 383.6 602.5 383.0 606.0C382.4 609.5 381.8 613.0 381.2 616.5C380.6 620.0 380.1 623.5 379.6 627.0C379.1 630.5 378.6 634.0 378.1 637.5C377.6 641.0 377.2 644.5 376.7 648.0C376.3 651.5 375.8 655.0 375.3 658.5C374.9 662.0 374.5 665.5 374.2 669.0C373.9 672.5 373.6 676.0 373.4 679.5C373.3 683.0 373.3 686.5 373.1 690.0C373.0 693.5 372.8 697.0 372.6 700.5C372.5 704.0 372.2 707.5 372.1 711.0C371.9 714.5 371.8 718.0 371.6 721.5C371.5 725.0 371.3 728.5 371.1 732.0C370.9 735.5 370.6 739.0 370.4 742.5C370.1 746.0 369.9 749.5 369.6 753.0C369.3 756.5 368.9 761.8 368.7 763.5" stroke="url(#lL)" stroke-width="4.4"/>
<path class="rd" d="M393.6 396.0C394.0 397.8 395.0 403.0 395.8 406.5C396.5 410.0 397.2 413.5 398.0 417.0C398.8 420.5 399.6 424.0 400.4 427.5C401.2 431.0 402.0 434.5 402.7 438.0C403.3 441.5 404.0 445.0 404.5 448.5C405.0 452.0 405.3 455.5 405.7 459.0C406.0 462.5 406.3 466.0 406.5 469.5C406.8 473.0 407.0 476.5 407.4 480.0C407.7 483.5 408.2 487.0 408.6 490.5C409.0 494.0 409.4 497.5 409.6 501.0C409.7 504.5 409.7 508.0 409.6 511.5C409.6 515.0 409.4 518.5 409.2 522.0C409.1 525.5 409.0 529.0 408.7 532.5C408.5 536.0 408.1 539.5 407.7 543.0C407.3 546.5 406.9 550.0 406.4 553.5C405.9 557.0 405.4 560.5 404.8 564.0C404.3 567.5 403.6 571.0 402.9 574.5C402.2 578.0 401.5 581.5 400.8 585.0C400.1 588.5 399.4 592.0 398.7 595.5C398.0 599.0 397.3 602.5 396.6 606.0C395.9 609.5 395.2 613.0 394.6 616.5C394.0 620.0 393.4 623.5 392.8 627.0C392.2 630.5 391.6 634.0 391.0 637.5C390.5 641.0 390.0 644.5 389.4 648.0C388.8 651.5 388.2 655.0 387.7 658.5C387.1 662.0 386.6 665.5 386.1 669.0C385.7 672.5 385.2 676.0 384.9 679.5C384.5 683.0 384.3 686.5 384.0 690.0C383.7 693.5 383.3 697.0 382.9 700.5C382.5 704.0 382.1 707.5 381.7 711.0C381.3 714.5 380.9 718.0 380.5 721.5C380.1 725.0 379.6 728.5 379.1 732.0C378.5 735.5 377.8 739.0 377.2 742.5C376.5 746.0 375.9 749.5 375.2 753.0C374.5 756.5 373.4 761.8 373.0 763.5" stroke="url(#lL)" stroke-width="5.2"/>
<path class="rd" d="M405.9 396.0C406.3 397.8 407.4 403.0 408.2 406.5C409.0 410.0 409.8 413.5 410.6 417.0C411.4 420.5 412.3 424.0 413.1 427.5C414.0 431.0 414.8 434.5 415.5 438.0C416.2 441.5 416.9 445.0 417.4 448.5C417.9 452.0 418.3 455.5 418.7 459.0C419.1 462.5 419.4 466.0 419.7 469.5C420.0 473.0 420.2 476.5 420.5 480.0C420.9 483.5 421.4 487.0 421.7 490.5C422.1 494.0 422.5 497.5 422.7 501.0C422.8 504.5 422.7 508.0 422.7 511.5C422.6 515.0 422.4 518.5 422.3 522.0C422.1 525.5 422.0 529.0 421.7 532.5C421.5 536.0 421.1 539.5 420.7 543.0C420.3 546.5 419.9 550.0 419.4 553.5C418.9 557.0 418.4 560.5 417.8 564.0C417.2 567.5 416.5 571.0 415.8 574.5C415.1 578.0 414.4 581.5 413.7 585.0C412.9 588.5 412.1 592.0 411.3 595.5C410.6 599.0 409.8 602.5 409.0 606.0C408.3 609.5 407.6 613.0 406.9 616.5C406.2 620.0 405.5 623.5 404.8 627.0C404.2 630.5 403.5 634.0 402.9 637.5C402.2 641.0 401.6 644.5 400.9 648.0C400.3 651.5 399.6 655.0 398.9 658.5C398.3 662.0 397.6 665.5 397.0 669.0C396.4 672.5 395.8 676.0 395.3 679.5C394.7 683.0 394.4 686.5 393.9 690.0C393.4 693.5 392.8 697.0 392.3 700.5C391.7 704.0 391.1 707.5 390.5 711.0C389.9 714.5 389.3 718.0 388.6 721.5C387.9 725.0 387.2 728.5 386.3 732.0C385.4 735.5 384.4 739.0 383.4 742.5C382.4 746.0 381.3 749.5 380.3 753.0C379.2 756.5 377.5 761.8 376.9 763.5" stroke="url(#lL)" stroke-width="3.8"/>
<path class="rd" d="M415.7 396.0C416.1 397.8 417.3 403.0 418.1 406.5C418.9 410.0 419.8 413.5 420.6 417.0C421.5 420.5 422.4 424.0 423.3 427.5C424.2 431.0 425.0 434.5 425.8 438.0C426.5 441.5 427.2 445.0 427.7 448.5C428.3 452.0 428.7 455.5 429.1 459.0C429.5 462.5 429.8 466.0 430.1 469.5C430.5 473.0 430.7 476.5 431.1 480.0C431.4 483.5 431.9 487.0 432.2 490.5C432.6 494.0 433.0 497.5 433.1 501.0C433.3 504.5 433.2 508.0 433.1 511.5C433.0 515.0 432.8 518.5 432.7 522.0C432.5 525.5 432.4 529.0 432.1 532.5C431.9 536.0 431.5 539.5 431.1 543.0C430.7 546.5 430.2 550.0 429.7 553.5C429.3 557.0 428.8 560.5 428.1 564.0C427.5 567.5 426.8 571.0 426.1 574.5C425.4 578.0 424.6 581.5 423.8 585.0C423.1 588.5 422.2 592.0 421.4 595.5C420.5 599.0 419.7 602.5 418.9 606.0C418.1 609.5 417.3 613.0 416.6 616.5C415.8 620.0 415.1 623.5 414.3 627.0C413.6 630.5 412.9 634.0 412.2 637.5C411.4 641.0 410.7 644.5 410.0 648.0C409.3 651.5 408.5 655.0 407.7 658.5C407.0 662.0 406.2 665.5 405.5 669.0C404.8 672.5 404.0 676.0 403.4 679.5C402.7 683.0 402.2 686.5 401.6 690.0C400.9 693.5 400.3 697.0 399.6 700.5C398.9 704.0 398.1 707.5 397.3 711.0C396.6 714.5 395.8 718.0 394.9 721.5C394.0 725.0 393.1 728.5 392.0 732.0C390.9 735.5 389.5 739.0 388.2 742.5C386.9 746.0 385.6 749.5 384.2 753.0C382.9 756.5 380.7 761.8 380.0 763.5" stroke="url(#lL)" stroke-width="3.4"/>
<path class="rd" d="M424.6 396.0C425.0 397.8 426.2 403.0 427.1 406.5C427.9 410.0 428.8 413.5 429.7 417.0C430.6 420.5 431.6 424.0 432.5 427.5C433.4 431.0 434.3 434.5 435.0 438.0C435.8 441.5 436.5 445.0 437.1 448.5C437.6 452.0 438.1 455.5 438.5 459.0C438.9 462.5 439.3 466.0 439.6 469.5C439.9 473.0 440.2 476.5 440.5 480.0C440.9 483.5 441.3 487.0 441.7 490.5C442.0 494.0 442.4 497.5 442.6 501.0C442.7 504.5 442.6 508.0 442.5 511.5C442.4 515.0 442.2 518.5 442.0 522.0C441.9 525.5 441.7 529.0 441.5 532.5C441.2 536.0 440.8 539.5 440.4 543.0C440.0 546.5 439.5 550.0 439.0 553.5C438.5 557.0 438.0 560.5 437.4 564.0C436.8 567.5 436.0 571.0 435.3 574.5C434.5 578.0 433.8 581.5 432.9 585.0C432.1 588.5 431.2 592.0 430.3 595.5C429.4 599.0 428.5 602.5 427.7 606.0C426.8 609.5 426.0 613.0 425.2 616.5C424.4 620.0 423.6 623.5 422.8 627.0C422.0 630.5 421.2 634.0 420.4 637.5C419.6 641.0 418.9 644.5 418.0 648.0C417.2 651.5 416.4 655.0 415.5 658.5C414.7 662.0 413.9 665.5 413.0 669.0C412.2 672.5 411.4 676.0 410.6 679.5C409.8 683.0 409.2 686.5 408.4 690.0C407.7 693.5 406.9 697.0 406.1 700.5C405.2 704.0 404.4 707.5 403.4 711.0C402.5 714.5 401.5 718.0 400.5 721.5C399.4 725.0 398.3 728.5 397.0 732.0C395.6 735.5 394.1 739.0 392.5 742.5C391.0 746.0 389.4 749.5 387.8 753.0C386.1 756.5 383.5 761.8 382.7 763.5" stroke="url(#lL)" stroke-width="3.1"/>
<path class="rd" d="M434.4 396.0C434.8 397.8 436.1 403.0 437.0 406.5C437.8 410.0 438.7 413.5 439.6 417.0C440.6 420.5 441.7 424.0 442.6 427.5C443.5 431.0 444.5 434.5 445.3 438.0C446.0 441.5 446.7 445.0 447.4 448.5C448.0 452.0 448.4 455.5 448.9 459.0C449.3 462.5 449.7 466.0 450.0 469.5C450.4 473.0 450.6 476.5 451.0 480.0C451.3 483.5 451.8 487.0 452.1 490.5C452.5 494.0 452.8 497.5 453.0 501.0C453.1 504.5 453.0 508.0 452.9 511.5C452.8 515.0 452.6 518.5 452.4 522.0C452.2 525.5 452.1 529.0 451.8 532.5C451.5 536.0 451.1 539.5 450.7 543.0C450.3 546.5 449.8 550.0 449.3 553.5C448.8 557.0 448.2 560.5 447.6 564.0C446.9 567.5 446.2 571.0 445.4 574.5C444.6 578.0 443.8 581.5 442.9 585.0C442.1 588.5 441.1 592.0 440.1 595.5C439.2 599.0 438.2 602.5 437.3 606.0C436.4 609.5 435.5 613.0 434.7 616.5C433.8 620.0 432.9 623.5 432.1 627.0C431.2 630.5 430.3 634.0 429.5 637.5C428.6 641.0 427.7 644.5 426.8 648.0C425.9 651.5 425.0 655.0 424.1 658.5C423.1 662.0 422.2 665.5 421.3 669.0C420.3 672.5 419.4 676.0 418.5 679.5C417.6 683.0 416.8 686.5 415.9 690.0C415.0 693.5 414.1 697.0 413.1 700.5C412.2 704.0 411.2 707.5 410.1 711.0C409.0 714.5 407.8 718.0 406.6 721.5C405.3 725.0 404.0 728.5 402.4 732.0C400.9 735.5 399.0 739.0 397.2 742.5C395.4 746.0 393.5 749.5 391.6 753.0C389.7 756.5 386.6 761.8 385.6 763.5" stroke="url(#lL)" stroke-width="4.1"/>
<path class="rd" d="M447.4 396.0C447.9 397.8 449.2 403.0 450.2 406.5C451.1 410.0 452.0 413.5 453.0 417.0C454.0 420.5 455.1 424.0 456.1 427.5C457.1 431.0 458.1 434.5 458.9 438.0C459.7 441.5 460.4 445.0 461.1 448.5C461.7 452.0 462.2 455.5 462.7 459.0C463.2 462.5 463.6 466.0 463.9 469.5C464.3 473.0 464.6 476.5 465.0 480.0C465.3 483.5 465.8 487.0 466.1 490.5C466.4 494.0 466.8 497.5 466.9 501.0C467.0 504.5 466.9 508.0 466.8 511.5C466.7 515.0 466.4 518.5 466.2 522.0C466.0 525.5 465.8 529.0 465.5 532.5C465.2 536.0 464.8 539.5 464.4 543.0C463.9 546.5 463.4 550.0 462.9 553.5C462.3 557.0 461.8 560.5 461.1 564.0C460.4 567.5 459.6 571.0 458.8 574.5C458.0 578.0 457.1 581.5 456.2 585.0C455.3 588.5 454.2 592.0 453.1 595.5C452.1 599.0 451.1 602.5 450.1 606.0C449.1 609.5 448.1 613.0 447.2 616.5C446.2 620.0 445.3 623.5 444.3 627.0C443.3 630.5 442.4 634.0 441.4 637.5C440.4 641.0 439.5 644.5 438.4 648.0C437.4 651.5 436.4 655.0 435.3 658.5C434.2 662.0 433.2 665.5 432.1 669.0C431.0 672.5 429.9 676.0 428.8 679.5C427.7 683.0 426.7 686.5 425.7 690.0C424.6 693.5 423.6 697.0 422.4 700.5C421.3 704.0 420.1 707.5 418.8 711.0C417.5 714.5 416.1 718.0 414.6 721.5C413.1 725.0 411.5 728.5 409.6 732.0C407.7 735.5 405.5 739.0 403.4 742.5C401.2 746.0 399.0 749.5 396.6 753.0C394.3 756.5 390.7 761.8 389.5 763.5" stroke="url(#lL)" stroke-width="5.4"/>
<path class="rd" d="M463.8 396.0C464.2 397.8 465.7 403.0 466.6 406.5C467.6 410.0 468.6 413.5 469.6 417.0C470.7 420.5 471.9 424.0 473.0 427.5C474.0 431.0 475.0 434.5 475.9 438.0C476.8 441.5 477.5 445.0 478.2 448.5C478.9 452.0 479.5 455.5 480.0 459.0C480.5 462.5 480.9 466.0 481.3 469.5C481.7 473.0 482.0 476.5 482.4 480.0C482.8 483.5 483.2 487.0 483.5 490.5C483.8 494.0 484.1 497.5 484.2 501.0C484.3 504.5 484.2 508.0 484.1 511.5C484.0 515.0 483.7 518.5 483.5 522.0C483.2 525.5 483.0 529.0 482.7 532.5C482.3 536.0 481.9 539.5 481.4 543.0C481.0 546.5 480.4 550.0 479.8 553.5C479.3 557.0 478.6 560.5 477.9 564.0C477.2 567.5 476.4 571.0 475.5 574.5C474.6 578.0 473.7 581.5 472.7 585.0C471.6 588.5 470.4 592.0 469.3 595.5C468.1 599.0 467.0 602.5 465.9 606.0C464.8 609.5 463.7 613.0 462.7 616.5C461.6 620.0 460.5 623.5 459.4 627.0C458.3 630.5 457.2 634.0 456.1 637.5C455.0 641.0 453.9 644.5 452.7 648.0C451.6 651.5 450.4 655.0 449.1 658.5C447.9 662.0 446.6 665.5 445.4 669.0C444.1 672.5 442.8 676.0 441.5 679.5C440.2 683.0 439.0 686.5 437.8 690.0C436.5 693.5 435.2 697.0 433.9 700.5C432.5 704.0 431.1 707.5 429.5 711.0C428.0 714.5 426.3 718.0 424.5 721.5C422.6 725.0 420.7 728.5 418.5 732.0C416.2 735.5 413.6 739.0 411.0 742.5C408.4 746.0 405.6 749.5 402.9 753.0C400.1 756.5 395.7 761.8 394.3 763.5" stroke="url(#lL)" stroke-width="6.5"/>
<path class="rd" d="M483.6 396.0C484.1 397.8 485.6 403.0 486.7 406.5C487.7 410.0 488.7 413.5 489.8 417.0C491.0 420.5 492.3 424.0 493.5 427.5C494.6 431.0 495.7 434.5 496.6 438.0C497.5 441.5 498.3 445.0 499.1 448.5C499.8 452.0 500.4 455.5 501.0 459.0C501.5 462.5 502.0 466.0 502.4 469.5C502.9 473.0 503.2 476.5 503.6 480.0C504.0 483.5 504.4 487.0 504.7 490.5C504.9 494.0 505.2 497.5 505.3 501.0C505.4 504.5 505.3 508.0 505.1 511.5C505.0 515.0 504.7 518.5 504.4 522.0C504.2 525.5 503.9 529.0 503.5 532.5C503.1 536.0 502.6 539.5 502.1 543.0C501.6 546.5 501.0 550.0 500.4 553.5C499.7 557.0 499.0 560.5 498.3 564.0C497.5 567.5 496.6 571.0 495.6 574.5C494.7 578.0 493.7 581.5 492.5 585.0C491.4 588.5 490.0 592.0 488.7 595.5C487.4 599.0 486.1 602.5 484.9 606.0C483.6 609.5 482.5 613.0 481.3 616.5C480.0 620.0 478.8 623.5 477.6 627.0C476.3 630.5 475.1 634.0 473.8 637.5C472.5 641.0 471.2 644.5 469.9 648.0C468.5 651.5 467.1 655.0 465.7 658.5C464.3 662.0 462.8 665.5 461.3 669.0C459.8 672.5 458.2 676.0 456.7 679.5C455.2 683.0 453.7 686.5 452.2 690.0C450.7 693.5 449.2 697.0 447.5 700.5C445.9 704.0 444.2 707.5 442.4 711.0C440.5 714.5 438.5 718.0 436.3 721.5C434.0 725.0 431.7 728.5 429.0 732.0C426.3 735.5 423.2 739.0 420.0 742.5C416.9 746.0 413.6 749.5 410.3 753.0C407.0 756.5 401.7 761.8 400.0 763.5" stroke="url(#lL)" stroke-width="8.0"/>
<path class="rd" d="M505.0 396.0C505.6 397.8 507.2 403.0 508.3 406.5C509.4 410.0 510.5 413.5 511.7 417.0C513.0 420.5 514.4 424.0 515.7 427.5C516.9 431.0 518.0 434.5 519.0 438.0C520.0 441.5 520.8 445.0 521.6 448.5C522.4 452.0 523.1 455.5 523.7 459.0C524.3 462.5 524.8 466.0 525.3 469.5C525.8 473.0 526.1 476.5 526.5 480.0C526.9 483.5 527.3 487.0 527.6 490.5C527.8 494.0 528.1 497.5 528.1 501.0C528.2 504.5 528.0 508.0 527.9 511.5C527.7 515.0 527.4 518.5 527.1 522.0C526.8 525.5 526.4 529.0 526.0 532.5C525.5 536.0 525.0 539.5 524.4 543.0C523.8 546.5 523.2 550.0 522.5 553.5C521.8 557.0 521.0 560.5 520.2 564.0C519.3 567.5 518.4 571.0 517.3 574.5C516.3 578.0 515.2 581.5 513.9 585.0C512.6 588.5 511.0 592.0 509.6 595.5C508.2 599.0 506.7 602.5 505.3 606.0C503.9 609.5 502.6 613.0 501.2 616.5C499.8 620.0 498.5 623.5 497.0 627.0C495.6 630.5 494.2 634.0 492.7 637.5C491.2 641.0 489.7 644.5 488.2 648.0C486.6 651.5 485.0 655.0 483.3 658.5C481.7 662.0 480.0 665.5 478.2 669.0C476.5 672.5 474.7 676.0 472.9 679.5C471.1 683.0 469.3 686.5 467.5 690.0C465.7 693.5 464.0 697.0 462.1 700.5C460.2 704.0 458.2 707.5 456.0 711.0C453.8 714.5 451.5 718.0 448.8 721.5C446.2 725.0 443.5 728.5 440.3 732.0C437.1 735.5 433.4 739.0 429.7 742.5C426.0 746.0 422.1 749.5 418.2 753.0C414.3 756.5 408.1 761.8 406.1 763.5" stroke="url(#lL)" stroke-width="7.6"/>
</g>
<g fill="none" stroke="#7a3c46" stroke-width="1" stroke-linecap="round" opacity="0.85">
<path d="M354.6 329C358 345 364 362 369.500 377.500l-3 3M356 338C360 352 365 366 369 378"/>
<path d="M373.300 336.500C377 352 382 366 387.400 378M375.500 349C379 360 383 370 386.500 377"/>
<path d="M414.500 360.400L417.600 373M348.500 356C351 372 355 388 361 402M351.500 372C354 384 357 394 361.500 403" stroke-width="0.8"/>
</g>
<path d="M348.8 695.0C349.6 698.2 351.5 708.2 353.8 714.0C356.0 719.8 359.4 725.5 362.5 730.0C365.6 734.5 369.0 737.7 372.5 741.0C376.0 744.3 379.6 747.6 383.8 750.0C387.9 752.4 393.5 754.4 397.5 755.6C401.5 756.8 404.2 757.1 407.5 757.0C410.8 756.9 413.8 756.6 417.5 755.0C421.2 753.4 426.2 750.4 430.0 747.5C433.8 744.6 436.7 740.7 440.0 737.5C443.3 734.3 445.8 733.2 450.0 728.5C454.2 723.8 462.5 712.2 465.0 709.0" fill="none" stroke="#e2aeaa" stroke-width="9" opacity="0.55" filter="url(#b2)"/>
</g>
<path d="M397.0 245.3C393.2 245.9 388.9 247.8 385.0 250.0C381.1 252.2 378.1 253.8 373.8 258.3C369.4 262.9 362.8 271.2 359.2 277.3C355.6 283.4 353.8 288.2 351.9 294.8C349.9 301.4 348.4 309.2 347.5 316.7C346.6 324.2 345.8 330.3 346.3 340.0C346.8 349.7 348.9 364.2 350.3 375.0C351.8 385.8 353.6 396.7 355.0 405.0C356.4 413.3 357.2 417.5 358.5 425.0C359.8 432.5 361.5 440.8 362.5 450.0C363.5 459.2 363.8 471.2 364.5 480.0C365.2 488.8 366.8 494.5 367.0 503.0C367.2 511.5 366.9 521.2 366.0 531.0C365.1 540.8 362.7 553.8 361.3 562.0C359.9 570.2 358.8 573.7 357.6 580.0C356.4 586.3 355.2 593.0 354.0 600.0C352.8 607.0 351.5 614.5 350.5 622.0C349.5 629.5 348.7 637.0 348.0 645.0C347.3 653.0 346.2 661.7 346.3 670.0C346.4 678.3 347.5 687.7 348.8 695.0C350.0 702.3 351.5 708.2 353.8 714.0C356.0 719.8 359.4 725.5 362.5 730.0C365.6 734.5 369.0 737.7 372.5 741.0C376.0 744.3 379.6 747.6 383.8 750.0C387.9 752.4 393.5 754.4 397.5 755.6C401.5 756.8 404.2 757.1 407.5 757.0C410.8 756.9 413.8 756.6 417.5 755.0C421.2 753.4 426.2 750.4 430.0 747.5C433.8 744.6 436.7 740.7 440.0 737.5C443.3 734.3 445.8 733.2 450.0 728.5C454.2 723.8 460.0 716.6 465.0 709.0C470.0 701.4 475.0 692.0 480.0 683.0C485.0 674.0 490.4 664.2 495.0 655.0C499.6 645.8 503.7 636.7 507.5 628.0C511.3 619.3 514.8 610.7 518.0 603.0C521.2 595.3 524.3 589.5 527.0 582.0C529.7 574.5 532.0 566.7 534.0 558.0C536.0 549.3 537.8 538.8 539.0 530.0C540.2 521.2 540.8 512.5 541.0 505.0C541.2 497.5 540.7 492.5 540.0 485.0C539.3 477.5 538.2 468.3 536.7 460.0C535.2 451.7 533.3 443.3 530.8 435.0C528.3 426.7 525.0 418.3 521.7 410.0C518.4 401.7 514.4 393.2 510.8 385.0C507.2 376.8 503.5 368.5 500.0 361.0C496.5 353.5 492.9 345.6 490.0 340.0C487.1 334.4 485.8 333.2 482.5 327.5C479.2 321.8 474.2 312.9 470.0 306.0C465.8 299.1 461.7 292.0 457.5 286.0C453.3 280.0 449.2 274.6 445.0 270.0C440.8 265.4 436.7 261.7 432.5 258.5C428.3 255.3 424.1 253.0 420.0 251.0C415.9 249.0 411.8 247.4 408.0 246.5C404.2 245.6 400.8 244.7 397.0 245.3Z" fill="none" stroke="#c58f8c" stroke-width="1" opacity="0.6"/>
<g clip-path="url(#cpPanel)">
<defs><linearGradient id="gRim" x1="0" y1="330" x2="0" y2="700" gradientUnits="userSpaceOnUse"><stop offset="0.000" stop-color="#431d2c" stop-opacity="0"/><stop offset="0.059" stop-color="#431d2c" stop-opacity="0.85"/><stop offset="0.730" stop-color="#4d2433" stop-opacity="0.8"/><stop offset="0.973" stop-color="#6d3a48" stop-opacity="0"/></linearGradient></defs>
<path d="M465.0 709.0C467.5 704.7 475.0 692.0 480.0 683.0C485.0 674.0 490.4 664.2 495.0 655.0C499.6 645.8 503.7 636.7 507.5 628.0C511.3 619.3 514.8 610.7 518.0 603.0C521.2 595.3 524.3 589.5 527.0 582.0C529.7 574.5 532.0 566.7 534.0 558.0C536.0 549.3 537.8 538.8 539.0 530.0C540.2 521.2 540.8 512.5 541.0 505.0C541.2 497.5 540.7 492.5 540.0 485.0C539.3 477.5 538.2 468.3 536.7 460.0C535.2 451.7 533.3 443.3 530.8 435.0C528.3 426.7 525.0 418.3 521.7 410.0C518.4 401.7 514.4 393.2 510.8 385.0C507.2 376.8 503.5 368.5 500.0 361.0C496.5 353.5 492.9 345.6 490.0 340.0C487.1 334.4 483.8 329.6 482.5 327.5" fill="none" stroke="url(#gRim)" stroke-width="2.8"/>
<path d="M490.0 340.0C488.8 337.9 485.8 333.2 482.5 327.5C479.2 321.8 474.2 312.9 470.0 306.0C465.8 299.1 461.7 292.0 457.5 286.0C453.3 280.0 449.2 274.6 445.0 270.0C440.8 265.4 436.7 261.7 432.5 258.5C428.3 255.3 424.1 253.0 420.0 251.0C415.9 249.0 410.0 247.2 408.0 246.5" fill="none" stroke="#f3d0c8" stroke-width="2.4" opacity="0.8"/>
</g>
<g transform="translate(376.5 390.3) skewX(12.5)">
<rect x="1.2" y="1.5" width="91" height="33.5" rx="4.5" fill="#7d454b" opacity="0.45" filter="url(#b1)"/>
<rect x="0" y="0" width="91" height="33.5" rx="4.5" fill="url(#gLogo)" stroke="#efc9c6" stroke-width="1.8"/>
<rect x="2.6" y="2.8" width="85.8" height="28" rx="2.5" fill="none" stroke="#b07479" stroke-width="0.9" opacity="0.8"/>
<text x="1.4" y="26.7" style="font-weight:400;font-size:27px;fill:#87464e;stroke:#87464e;stroke-width:1.7px" textLength="84" lengthAdjust="spacing">LELO</text>
<text x="3.7" y="27.3" style="font-weight:400;font-size:27px;fill:#f4d6d3;stroke:none;opacity:0.92" textLength="84" lengthAdjust="spacing">LELO</text>
</g>
<path class="dot" d="M334 222.2H443"/>
<path class="dot" d="M591.3 171V245"/>
<path class="dot" d="M573.5 375.6H661.5V415.8"/>
<path class="dot" d="M500 734.2V823"/>
<circle class="ring" cx="306.8" cy="222.3" r="15.6" stroke-width="1.8"/>
<text class="num" x="306.5" y="229.8" font-size="21.0">1</text>
<circle class="ring" cx="590.9" cy="146.3" r="15.8" stroke-width="1.9"/>
<text class="num" x="590.6" y="153.9" font-size="21.3">2</text>
<circle class="ring" cx="661.6" cy="440.4" r="17.1" stroke-width="2.3"/>
<text class="num" x="661.3" y="448.4" font-size="22.4">3</text>
<circle class="ring" cx="500.6" cy="851.0" r="16.5" stroke-width="2.1"/>
<text class="num" x="500.3" y="859.0" font-size="22.4">4</text>
<text class="lbl" x="275.6" y="212.0" text-anchor="end" textLength="154.2" lengthAdjust="spacingAndGlyphs">WIDE RANGE</text>
<text class="lbl" x="275.6" y="240.0" text-anchor="end" textLength="185.2" lengthAdjust="spacingAndGlyphs">OF VIBRATIONS</text>
<text class="lbl" x="275.6" y="268.5" text-anchor="end" textLength="177.2" lengthAdjust="spacingAndGlyphs">AND SETTINGS</text>
<text class="lbl" x="623.2" y="141.0" text-anchor="start" textLength="168.8" lengthAdjust="spacingAndGlyphs">SONIC WAVES</text>
<text class="lbl" x="623.2" y="169.0" text-anchor="start" textLength="165.2" lengthAdjust="spacingAndGlyphs">STIMULATION</text>
<text class="lbl" x="643.2" y="491.0" text-anchor="start" textLength="261.5" lengthAdjust="spacingAndGlyphs">SMOOTH TRANSITION</text>
<text class="lbl" x="643.2" y="519.0" text-anchor="start" textLength="214.2" lengthAdjust="spacingAndGlyphs">BETWEEN MODES</text>
<text class="lbl" x="643.2" y="547.0" text-anchor="start" textLength="178.8" lengthAdjust="spacingAndGlyphs">AND SETTINGS</text>
<text class="lbl" x="246.2" y="859.0" text-anchor="start" textLength="221.8" lengthAdjust="spacingAndGlyphs">APP - CONNECTED</text>
</svg></body></html>
